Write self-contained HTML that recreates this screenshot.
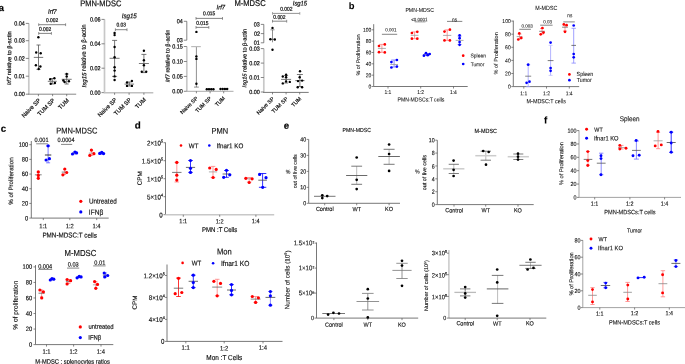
<!DOCTYPE html><html><head><meta charset="utf-8"><title>figure</title><style>html,body{margin:0;padding:0;background:#fff;overflow:hidden;}svg{display:block;text-rendering:geometricPrecision;will-change:transform;font-family:"Liberation Sans",sans-serif;}</style></head><body>
<svg width="685" height="364" viewBox="0 0 685 364">
<rect width="685" height="364" fill="#fff"/>
<text font-size="9.4" font-weight="bold" fill="#000" stroke="#111" stroke-width="0.2" dominant-baseline="central" transform="translate(-1.25 7.41) rotate(0.1) scale(1 1)">a</text>
<text font-size="7.5" fill="#111" stroke="#111" stroke-width="0.2" dominant-baseline="central" transform="translate(80.2 3.51) rotate(0.1) scale(1 1.12)">PMN-MDSC</text>
<text font-size="7.61" fill="#111" stroke="#111" stroke-width="0.2" dominant-baseline="central" transform="translate(234.39 3.2) rotate(0.1) scale(1 1.12)">M-MDSC</text>
<line x1="28.8" y1="23.4" x2="28.8" y2="94.2" stroke="#c8c8c8" stroke-width="1.7"/>
<line x1="25.8" y1="23.4" x2="28.8" y2="23.4" stroke="#555" stroke-width="0.7"/>
<text font-size="5.4" fill="#111" stroke="#111" stroke-width="0.2" dominant-baseline="central" transform="translate(14.23 24.33) rotate(0.1) scale(1 1.12)">0.04</text>
<line x1="25.8" y1="40.7" x2="28.8" y2="40.7" stroke="#555" stroke-width="0.7"/>
<text font-size="5.4" fill="#111" stroke="#111" stroke-width="0.2" dominant-baseline="central" transform="translate(14.31 41.43) rotate(0.1) scale(1 1.12)">0.03</text>
<line x1="25.8" y1="58.4" x2="28.8" y2="58.4" stroke="#555" stroke-width="0.7"/>
<text font-size="5.4" fill="#111" stroke="#111" stroke-width="0.2" dominant-baseline="central" transform="translate(14.37 59.33) rotate(0.1) scale(1 1.12)">0.02</text>
<line x1="25.8" y1="76.2" x2="28.8" y2="76.2" stroke="#555" stroke-width="0.7"/>
<text font-size="5.4" fill="#111" stroke="#111" stroke-width="0.2" dominant-baseline="central" transform="translate(14.34 77.13) rotate(0.1) scale(1 1.12)">0.01</text>
<line x1="25.8" y1="94.2" x2="28.8" y2="94.2" stroke="#555" stroke-width="0.7"/>
<text font-size="5.4" fill="#111" stroke="#111" stroke-width="0.2" dominant-baseline="central" transform="translate(14.29 94.87) rotate(0.1) scale(1 1.12)">0.00</text>
<line x1="28" y1="94.2" x2="76.2" y2="94.2" stroke="#888" stroke-width="1"/>
<line x1="38.4" y1="94.2" x2="38.4" y2="96.2" stroke="#555" stroke-width="0.7"/>
<line x1="52.6" y1="94.2" x2="52.6" y2="96.2" stroke="#555" stroke-width="0.7"/>
<line x1="66.7" y1="94.2" x2="66.7" y2="96.2" stroke="#555" stroke-width="0.7"/>
<text x="41" y="100.8" font-size="5.8" text-anchor="end" fill="#111" stroke="#111" stroke-width="0.2" transform="rotate(-45 41 100.8)">Naive SP</text>
<text x="55.2" y="100.8" font-size="5.8" text-anchor="end" fill="#111" stroke="#111" stroke-width="0.2" transform="rotate(-45 55.2 100.8)">TUM SP</text>
<text x="69.3" y="100.8" font-size="5.8" text-anchor="end" fill="#111" stroke="#111" stroke-width="0.2" transform="rotate(-45 69.3 100.8)">TUM</text>
<text font-size="5.97" font-style="italic" fill="#111" stroke="#111" stroke-width="0.2" dominant-baseline="central" transform="translate(48.06 12.75) rotate(0.1) scale(1 1.12)">Irf7</text>
<text font-size="5.78" fill="#111" stroke="#111" stroke-width="0.2" dominant-baseline="central" transform="translate(10.09 85.22) rotate(-89.9)"><tspan font-style="italic">Irf7</tspan> relative to β-actin</text>
<line x1="38.7" y1="24.7" x2="65.6" y2="24.7" stroke="#666" stroke-width="0.8"/>
<line x1="38.7" y1="23.3" x2="38.7" y2="26.1" stroke="#666" stroke-width="0.7"/>
<line x1="65.6" y1="23.3" x2="65.6" y2="26.1" stroke="#666" stroke-width="0.7"/>
<text font-size="4.9" fill="#111" stroke="#111" stroke-width="0.2" dominant-baseline="central" transform="translate(46 21.49) rotate(0.1) scale(1 1.12)">0.002</text>
<line x1="38.7" y1="33.4" x2="51.4" y2="33.4" stroke="#666" stroke-width="0.8"/>
<line x1="38.7" y1="32" x2="38.7" y2="34.8" stroke="#666" stroke-width="0.7"/>
<line x1="51.4" y1="32" x2="51.4" y2="34.8" stroke="#666" stroke-width="0.7"/>
<text font-size="4.9" fill="#111" stroke="#111" stroke-width="0.2" dominant-baseline="central" transform="translate(38.9 30.31) rotate(0.1) scale(1 1.12)">0.002</text>
<line x1="38.5" y1="45" x2="38.5" y2="69.4" stroke="#555" stroke-width="0.8"/>
<line x1="36.5" y1="45" x2="40.5" y2="45" stroke="#555" stroke-width="0.8"/>
<line x1="36.5" y1="69.4" x2="40.5" y2="69.4" stroke="#555" stroke-width="0.8"/>
<line x1="33.8" y1="57.4" x2="43.2" y2="57.4" stroke="#555" stroke-width="0.8"/>
<circle cx="38.4" cy="37.2" r="1.2" fill="#000"/>
<circle cx="36.2" cy="52.5" r="1.2" fill="#000"/>
<circle cx="40.7" cy="53.3" r="1.2" fill="#000"/>
<circle cx="35.9" cy="65.2" r="1.2" fill="#000"/>
<circle cx="40.4" cy="66.5" r="1.2" fill="#000"/>
<circle cx="38.7" cy="69" r="1.2" fill="#000"/>
<line x1="52.3" y1="78.5" x2="52.3" y2="84" stroke="#555" stroke-width="0.8"/>
<line x1="50.3" y1="78.5" x2="54.3" y2="78.5" stroke="#555" stroke-width="0.8"/>
<line x1="50.3" y1="84" x2="54.3" y2="84" stroke="#555" stroke-width="0.8"/>
<line x1="47.8" y1="81.3" x2="56.8" y2="81.3" stroke="#555" stroke-width="0.8"/>
<circle cx="50.2" cy="79.3" r="1.2" fill="#000"/>
<circle cx="54.4" cy="78.3" r="1.2" fill="#000"/>
<circle cx="50.7" cy="83.8" r="1.2" fill="#000"/>
<circle cx="54.9" cy="83" r="1.2" fill="#000"/>
<line x1="66.7" y1="74" x2="66.7" y2="84" stroke="#555" stroke-width="0.8"/>
<line x1="64.7" y1="74" x2="68.7" y2="74" stroke="#555" stroke-width="0.8"/>
<line x1="64.7" y1="84" x2="68.7" y2="84" stroke="#555" stroke-width="0.8"/>
<line x1="61.7" y1="79.3" x2="71.7" y2="79.3" stroke="#555" stroke-width="0.8"/>
<circle cx="66.7" cy="73.9" r="1.2" fill="#000"/>
<circle cx="66.7" cy="76.4" r="1.2" fill="#000"/>
<circle cx="63.4" cy="80.5" r="1.2" fill="#000"/>
<circle cx="68.9" cy="81.3" r="1.2" fill="#000"/>
<circle cx="64.6" cy="82" r="1.2" fill="#000"/>
<line x1="104.5" y1="19.4" x2="104.5" y2="92.6" stroke="#c8c8c8" stroke-width="1.7"/>
<line x1="101.5" y1="19.4" x2="104.5" y2="19.4" stroke="#555" stroke-width="0.7"/>
<text font-size="5.4" fill="#111" stroke="#111" stroke-width="0.2" dominant-baseline="central" transform="translate(90.01 20.33) rotate(0.1) scale(1 1.12)">0.06</text>
<line x1="101.5" y1="43.8" x2="104.5" y2="43.8" stroke="#555" stroke-width="0.7"/>
<text font-size="5.4" fill="#111" stroke="#111" stroke-width="0.2" dominant-baseline="central" transform="translate(89.93 44.53) rotate(0.1) scale(1 1.12)">0.04</text>
<line x1="101.5" y1="68.2" x2="104.5" y2="68.2" stroke="#555" stroke-width="0.7"/>
<text font-size="5.4" fill="#111" stroke="#111" stroke-width="0.2" dominant-baseline="central" transform="translate(90.07 69.13) rotate(0.1) scale(1 1.12)">0.02</text>
<line x1="101.5" y1="92.6" x2="104.5" y2="92.6" stroke="#555" stroke-width="0.7"/>
<text font-size="5.4" fill="#111" stroke="#111" stroke-width="0.2" dominant-baseline="central" transform="translate(89.99 93.53) rotate(0.1) scale(1 1.12)">0.00</text>
<line x1="103.7" y1="92.8" x2="153.3" y2="92.8" stroke="#c0c0c0" stroke-width="1.4"/>
<line x1="114.6" y1="92.8" x2="114.6" y2="94.8" stroke="#555" stroke-width="0.7"/>
<line x1="129.1" y1="92.8" x2="129.1" y2="94.8" stroke="#555" stroke-width="0.7"/>
<line x1="143.9" y1="92.8" x2="143.9" y2="94.8" stroke="#555" stroke-width="0.7"/>
<text x="117.2" y="100.2" font-size="5.8" text-anchor="end" fill="#111" stroke="#111" stroke-width="0.2" transform="rotate(-45 117.2 100.2)">Naive SP</text>
<text x="131.7" y="100.2" font-size="5.8" text-anchor="end" fill="#111" stroke="#111" stroke-width="0.2" transform="rotate(-45 131.7 100.2)">TUM SP</text>
<text x="146.5" y="100.2" font-size="5.8" text-anchor="end" fill="#111" stroke="#111" stroke-width="0.2" transform="rotate(-45 146.5 100.2)">TUM</text>
<text font-size="6.14" font-style="italic" fill="#111" stroke="#111" stroke-width="0.2" dominant-baseline="central" transform="translate(121.75 16.66) rotate(0.1) scale(1 1.12)">Isg15</text>
<text font-size="6.08" fill="#111" stroke="#111" stroke-width="0.2" dominant-baseline="central" transform="translate(84.27 87.45) rotate(-89.9)"><tspan font-style="italic">Isg15</tspan> relative to β-actin</text>
<line x1="115.4" y1="29.7" x2="127" y2="29.7" stroke="#666" stroke-width="0.8"/>
<line x1="115.4" y1="28.3" x2="115.4" y2="31.1" stroke="#666" stroke-width="0.7"/>
<line x1="127" y1="28.3" x2="127" y2="31.1" stroke="#666" stroke-width="0.7"/>
<text font-size="4.9" fill="#111" stroke="#111" stroke-width="0.2" dominant-baseline="central" transform="translate(116.43 25.99) rotate(0.1) scale(1 1.12)">0.03</text>
<line x1="114.6" y1="40.4" x2="114.6" y2="76.4" stroke="#555" stroke-width="0.8"/>
<line x1="112.1" y1="40.4" x2="117.1" y2="40.4" stroke="#555" stroke-width="0.8"/>
<line x1="112.1" y1="76.4" x2="117.1" y2="76.4" stroke="#555" stroke-width="0.8"/>
<line x1="109.6" y1="58.3" x2="119.6" y2="58.3" stroke="#555" stroke-width="0.8"/>
<circle cx="114.6" cy="33" r="1.2" fill="#000"/>
<circle cx="114.6" cy="35.1" r="1.2" fill="#000"/>
<circle cx="114.6" cy="47" r="1.2" fill="#000"/>
<circle cx="114.6" cy="57.2" r="1.2" fill="#000"/>
<circle cx="114.6" cy="67.3" r="1.2" fill="#000"/>
<circle cx="114.6" cy="70.6" r="1.2" fill="#000"/>
<circle cx="114.6" cy="76.4" r="1.2" fill="#000"/>
<circle cx="114.6" cy="80" r="1.2" fill="#000"/>
<line x1="129.3" y1="82" x2="129.3" y2="86" stroke="#555" stroke-width="0.8"/>
<line x1="127.3" y1="82" x2="131.3" y2="82" stroke="#555" stroke-width="0.8"/>
<line x1="127.3" y1="86" x2="131.3" y2="86" stroke="#555" stroke-width="0.8"/>
<line x1="124.5" y1="84.1" x2="134.1" y2="84.1" stroke="#555" stroke-width="0.8"/>
<circle cx="127" cy="82.5" r="1.2" fill="#000"/>
<circle cx="131.9" cy="81" r="1.2" fill="#000"/>
<circle cx="127" cy="85.9" r="1.2" fill="#000"/>
<circle cx="131.9" cy="85.9" r="1.2" fill="#000"/>
<line x1="143.9" y1="54.4" x2="143.9" y2="72.6" stroke="#555" stroke-width="0.8"/>
<line x1="141.4" y1="54.4" x2="146.4" y2="54.4" stroke="#555" stroke-width="0.8"/>
<line x1="141.4" y1="72.6" x2="146.4" y2="72.6" stroke="#555" stroke-width="0.8"/>
<line x1="138.9" y1="63.5" x2="148.9" y2="63.5" stroke="#555" stroke-width="0.8"/>
<circle cx="143.9" cy="50.8" r="1.2" fill="#000"/>
<circle cx="143.9" cy="60.2" r="1.2" fill="#000"/>
<circle cx="143.9" cy="65.2" r="1.2" fill="#000"/>
<circle cx="141.8" cy="71.7" r="1.2" fill="#000"/>
<circle cx="146.2" cy="71.7" r="1.2" fill="#000"/>
<line x1="186.8" y1="21.3" x2="186.8" y2="40.2" stroke="#666" stroke-width="0.8"/>
<line x1="183.8" y1="21.3" x2="186.8" y2="21.3" stroke="#555" stroke-width="0.7"/>
<text font-size="5.4" fill="#111" stroke="#111" stroke-width="0.2" dominant-baseline="central" transform="translate(176.74 22.23) rotate(0.1) scale(1 1.12)">04</text>
<line x1="183.8" y1="40.2" x2="186.8" y2="40.2" stroke="#555" stroke-width="0.7"/>
<text font-size="5.4" fill="#111" stroke="#111" stroke-width="0.2" dominant-baseline="central" transform="translate(176.82 41.17) rotate(0.1) scale(1 1.12)">03</text>
<line x1="186.8" y1="46.5" x2="186.8" y2="91.3" stroke="#c8c8c8" stroke-width="1.7"/>
<line x1="183.8" y1="46.5" x2="186.8" y2="46.5" stroke="#555" stroke-width="0.7"/>
<text font-size="5.4" fill="#111" stroke="#111" stroke-width="0.2" dominant-baseline="central" transform="translate(172.31 47.43) rotate(0.1) scale(1 1.12)">0.15</text>
<line x1="183.8" y1="61.5" x2="186.8" y2="61.5" stroke="#555" stroke-width="0.7"/>
<text font-size="5.4" fill="#111" stroke="#111" stroke-width="0.2" dominant-baseline="central" transform="translate(172.29 62.43) rotate(0.1) scale(1 1.12)">0.10</text>
<line x1="183.8" y1="76.4" x2="186.8" y2="76.4" stroke="#555" stroke-width="0.7"/>
<text font-size="5.4" fill="#111" stroke="#111" stroke-width="0.2" dominant-baseline="central" transform="translate(172.31 77.33) rotate(0.1) scale(1 1.12)">0.05</text>
<line x1="183.8" y1="91.3" x2="186.8" y2="91.3" stroke="#555" stroke-width="0.7"/>
<text font-size="5.4" fill="#111" stroke="#111" stroke-width="0.2" dominant-baseline="central" transform="translate(172.29 92.23) rotate(0.1) scale(1 1.12)">0.00</text>
<line x1="186" y1="91.3" x2="233.5" y2="91.3" stroke="#aaa" stroke-width="1"/>
<line x1="196.4" y1="91.3" x2="196.4" y2="93.3" stroke="#555" stroke-width="0.7"/>
<line x1="210.1" y1="91.3" x2="210.1" y2="93.3" stroke="#555" stroke-width="0.7"/>
<line x1="223.7" y1="91.3" x2="223.7" y2="93.3" stroke="#555" stroke-width="0.7"/>
<text x="198.2" y="98.6" font-size="5.4" text-anchor="end" fill="#111" stroke="#111" stroke-width="0.2" transform="rotate(-45 198.2 98.6)">Naive SP</text>
<text x="211.9" y="98.6" font-size="5.4" text-anchor="end" fill="#111" stroke="#111" stroke-width="0.2" transform="rotate(-45 211.9 98.6)">TUM SP</text>
<text x="225.5" y="98.6" font-size="5.4" text-anchor="end" fill="#111" stroke="#111" stroke-width="0.2" transform="rotate(-45 225.5 98.6)">TUM</text>
<text font-size="5.9" font-style="italic" fill="#111" stroke="#111" stroke-width="0.2" dominant-baseline="central" transform="translate(216.56 8.4) rotate(0.1) scale(1 1.12)">Irf7</text>
<text font-size="5.64" fill="#111" stroke="#111" stroke-width="0.2" dominant-baseline="central" transform="translate(168.42 82.31) rotate(-89.9)"><tspan font-style="italic">Irf7</tspan> relative to β-actin</text>
<line x1="196" y1="18.4" x2="222.5" y2="18.4" stroke="#666" stroke-width="0.8"/>
<line x1="196" y1="17" x2="196" y2="19.8" stroke="#666" stroke-width="0.7"/>
<line x1="222.5" y1="17" x2="222.5" y2="19.8" stroke="#666" stroke-width="0.7"/>
<text font-size="4.9" fill="#111" stroke="#111" stroke-width="0.2" dominant-baseline="central" transform="translate(203.07 14.63) rotate(0.1) scale(1 1.12)">0.015</text>
<line x1="196" y1="27.4" x2="208.8" y2="27.4" stroke="#666" stroke-width="0.8"/>
<line x1="196" y1="26" x2="196" y2="28.8" stroke="#666" stroke-width="0.7"/>
<line x1="208.8" y1="26" x2="208.8" y2="28.8" stroke="#666" stroke-width="0.7"/>
<text font-size="4.9" fill="#111" stroke="#111" stroke-width="0.2" dominant-baseline="central" transform="translate(196.28 24.31) rotate(0.1) scale(1 1.12)">0.015</text>
<line x1="196.4" y1="46.6" x2="196.4" y2="87.1" stroke="#444" stroke-width="0.6"/>
<line x1="194" y1="87.1" x2="198.8" y2="87.1" stroke="#444" stroke-width="0.6"/>
<line x1="191.2" y1="46.6" x2="200.8" y2="46.6" stroke="#bbb" stroke-width="1.2"/>
<circle cx="196.4" cy="31.9" r="1.2" fill="#000"/>
<circle cx="196.4" cy="56.4" r="1.2" fill="#000"/>
<circle cx="196.4" cy="58.9" r="1.2" fill="#000"/>
<circle cx="196.4" cy="83.7" r="1.2" fill="#000"/>
<line x1="206" y1="89" x2="214.5" y2="89" stroke="#444" stroke-width="0.6"/>
<circle cx="206.8" cy="89.2" r="1.2" fill="#000"/>
<circle cx="209" cy="89.2" r="1.2" fill="#000"/>
<circle cx="211.2" cy="89.2" r="1.2" fill="#000"/>
<circle cx="213.4" cy="89.2" r="1.2" fill="#000"/>
<line x1="219.8" y1="88.8" x2="228.5" y2="88.8" stroke="#444" stroke-width="0.6"/>
<circle cx="220.5" cy="89" r="1.2" fill="#000"/>
<circle cx="222.7" cy="89" r="1.2" fill="#000"/>
<circle cx="224.9" cy="89" r="1.2" fill="#000"/>
<circle cx="227.1" cy="89" r="1.2" fill="#000"/>
<line x1="263.8" y1="24.4" x2="263.8" y2="42.8" stroke="#666" stroke-width="0.8"/>
<line x1="260.8" y1="24.4" x2="263.8" y2="24.4" stroke="#555" stroke-width="0.7"/>
<text font-size="5.4" fill="#111" stroke="#111" stroke-width="0.2" dominant-baseline="central" transform="translate(253.82 25.33) rotate(0.1) scale(1 1.12)">03</text>
<line x1="260.8" y1="33.6" x2="263.8" y2="33.6" stroke="#555" stroke-width="0.7"/>
<text font-size="5.4" fill="#111" stroke="#111" stroke-width="0.2" dominant-baseline="central" transform="translate(253.88 34.53) rotate(0.1) scale(1 1.12)">02</text>
<line x1="260.8" y1="42.8" x2="263.8" y2="42.8" stroke="#555" stroke-width="0.7"/>
<text font-size="5.4" fill="#111" stroke="#111" stroke-width="0.2" dominant-baseline="central" transform="translate(253.85 43.53) rotate(0.1) scale(1 1.12)">01</text>
<line x1="263.8" y1="48.6" x2="263.8" y2="92" stroke="#c8c8c8" stroke-width="1.7"/>
<line x1="260.8" y1="48.6" x2="263.8" y2="48.6" stroke="#555" stroke-width="0.7"/>
<text font-size="5.4" fill="#111" stroke="#111" stroke-width="0.2" dominant-baseline="central" transform="translate(249.31 49.53) rotate(0.1) scale(1 1.12)">0.03</text>
<line x1="260.8" y1="63.1" x2="263.8" y2="63.1" stroke="#555" stroke-width="0.7"/>
<text font-size="5.4" fill="#111" stroke="#111" stroke-width="0.2" dominant-baseline="central" transform="translate(249.37 64.15) rotate(0.1) scale(1 1.12)">0.02</text>
<line x1="260.8" y1="77.5" x2="263.8" y2="77.5" stroke="#555" stroke-width="0.7"/>
<text font-size="5.4" fill="#111" stroke="#111" stroke-width="0.2" dominant-baseline="central" transform="translate(249.34 78.43) rotate(0.1) scale(1 1.12)">0.01</text>
<line x1="260.8" y1="92" x2="263.8" y2="92" stroke="#555" stroke-width="0.7"/>
<text font-size="5.4" fill="#111" stroke="#111" stroke-width="0.2" dominant-baseline="central" transform="translate(249.29 92.93) rotate(0.1) scale(1 1.12)">0.00</text>
<line x1="263" y1="92.4" x2="308.7" y2="92.4" stroke="#777" stroke-width="1"/>
<line x1="272.5" y1="92.4" x2="272.5" y2="94.4" stroke="#555" stroke-width="0.7"/>
<line x1="286.1" y1="92.4" x2="286.1" y2="94.4" stroke="#555" stroke-width="0.7"/>
<line x1="299.7" y1="92.4" x2="299.7" y2="94.4" stroke="#555" stroke-width="0.7"/>
<text x="274.6" y="99.1" font-size="5.4" text-anchor="end" fill="#111" stroke="#111" stroke-width="0.2" transform="rotate(-45 274.6 99.1)">Naive SP</text>
<text x="288.2" y="99.1" font-size="5.4" text-anchor="end" fill="#111" stroke="#111" stroke-width="0.2" transform="rotate(-45 288.2 99.1)">TUM SP</text>
<text x="301.8" y="99.1" font-size="5.4" text-anchor="end" fill="#111" stroke="#111" stroke-width="0.2" transform="rotate(-45 301.8 99.1)">TUM</text>
<text font-size="5.89" font-style="italic" fill="#111" stroke="#111" stroke-width="0.2" dominant-baseline="central" transform="translate(292.76 4.42) rotate(0.1) scale(1 1.12)">Isg15</text>
<text font-size="5.66" fill="#111" stroke="#111" stroke-width="0.2" dominant-baseline="central" transform="translate(245.37 87.41) rotate(-89.9)"><tspan font-style="italic">Isg15</tspan> relative to β-actin</text>
<line x1="272.5" y1="13.4" x2="299.8" y2="13.4" stroke="#888" stroke-width="0.9"/>
<line x1="272.5" y1="12" x2="272.5" y2="14.8" stroke="#888" stroke-width="0.7"/>
<line x1="299.8" y1="12" x2="299.8" y2="14.8" stroke="#888" stroke-width="0.7"/>
<text font-size="4.9" fill="#111" stroke="#111" stroke-width="0.2" dominant-baseline="central" transform="translate(280.2 10.13) rotate(0.1) scale(1 1.12)">0.002</text>
<line x1="272.5" y1="21.2" x2="286.7" y2="21.2" stroke="#666" stroke-width="0.8"/>
<line x1="272.5" y1="19.8" x2="272.5" y2="22.6" stroke="#666" stroke-width="0.7"/>
<line x1="286.7" y1="19.8" x2="286.7" y2="22.6" stroke="#666" stroke-width="0.7"/>
<text font-size="4.9" fill="#111" stroke="#111" stroke-width="0.2" dominant-baseline="central" transform="translate(273.3 18.31) rotate(0.1) scale(1 1.12)">0.002</text>
<line x1="272.5" y1="29.8" x2="272.5" y2="42.3" stroke="#444" stroke-width="0.6"/>
<line x1="270.5" y1="29.8" x2="274.5" y2="29.8" stroke="#444" stroke-width="0.6"/>
<line x1="269" y1="39.3" x2="276" y2="39.3" stroke="#444" stroke-width="0.6"/>
<circle cx="272.5" cy="27.9" r="1.2" fill="#000"/>
<circle cx="270.4" cy="39.2" r="1.2" fill="#000"/>
<circle cx="274.8" cy="39.5" r="1.2" fill="#000"/>
<circle cx="272.5" cy="49.8" r="1.2" fill="#000"/>
<line x1="286.1" y1="75.5" x2="286.1" y2="83" stroke="#555" stroke-width="0.8"/>
<line x1="284.1" y1="75.5" x2="288.1" y2="75.5" stroke="#555" stroke-width="0.8"/>
<line x1="284.1" y1="83" x2="288.1" y2="83" stroke="#555" stroke-width="0.8"/>
<line x1="281.1" y1="79.4" x2="291.1" y2="79.4" stroke="#555" stroke-width="0.8"/>
<circle cx="282.8" cy="76.5" r="1.2" fill="#000"/>
<circle cx="286.1" cy="74.8" r="1.2" fill="#000"/>
<circle cx="286.1" cy="77.3" r="1.2" fill="#000"/>
<circle cx="282.8" cy="83.4" r="1.2" fill="#000"/>
<circle cx="286.1" cy="81.4" r="1.2" fill="#000"/>
<circle cx="289.8" cy="81.9" r="1.2" fill="#000"/>
<line x1="299.9" y1="74.5" x2="299.9" y2="86.5" stroke="#555" stroke-width="0.8"/>
<line x1="296.9" y1="74.5" x2="302.9" y2="74.5" stroke="#555" stroke-width="0.8"/>
<line x1="296.9" y1="86.5" x2="302.9" y2="86.5" stroke="#555" stroke-width="0.8"/>
<line x1="295.3" y1="80.6" x2="304.5" y2="80.6" stroke="#555" stroke-width="0.8"/>
<circle cx="300" cy="71.2" r="1.2" fill="#000"/>
<circle cx="299.7" cy="77.3" r="1.2" fill="#000"/>
<circle cx="298" cy="81.1" r="1.2" fill="#000"/>
<circle cx="302.1" cy="80.6" r="1.2" fill="#000"/>
<circle cx="297.7" cy="87.2" r="1.2" fill="#000"/>
<circle cx="302.1" cy="87.2" r="1.2" fill="#000"/>
<text font-size="9.4" font-weight="bold" fill="#000" stroke="#111" stroke-width="0.06" dominant-baseline="central" transform="translate(348.82 5.57) rotate(0.1) scale(1 1)">b</text>
<text font-size="5.2" fill="#111" stroke="#111" stroke-width="0.06" dominant-baseline="central" transform="translate(405.38 10.8) rotate(0.1) scale(1 1.12)">PMN-MDSC</text>
<line x1="373.7" y1="24.2" x2="373.7" y2="86.5" stroke="#555" stroke-width="0.8"/>
<line x1="371.7" y1="29.8" x2="373.7" y2="29.8" stroke="#555" stroke-width="0.7"/>
<text font-size="5" fill="#111" stroke="#111" stroke-width="0.06" dominant-baseline="central" transform="translate(363.05 30.66) rotate(0.1) scale(1 1.12)">100</text>
<line x1="371.7" y1="41.14" x2="373.7" y2="41.14" stroke="#555" stroke-width="0.7"/>
<text font-size="5" fill="#111" stroke="#111" stroke-width="0.06" dominant-baseline="central" transform="translate(365.82 42) rotate(0.1) scale(1 1.12)">80</text>
<line x1="371.7" y1="52.48" x2="373.7" y2="52.48" stroke="#555" stroke-width="0.7"/>
<text font-size="5" fill="#111" stroke="#111" stroke-width="0.06" dominant-baseline="central" transform="translate(365.82 53.34) rotate(0.1) scale(1 1.12)">60</text>
<line x1="371.7" y1="63.82" x2="373.7" y2="63.82" stroke="#555" stroke-width="0.7"/>
<text font-size="5" fill="#111" stroke="#111" stroke-width="0.06" dominant-baseline="central" transform="translate(365.82 64.68) rotate(0.1) scale(1 1.12)">40</text>
<line x1="371.7" y1="75.16" x2="373.7" y2="75.16" stroke="#555" stroke-width="0.7"/>
<text font-size="5" fill="#111" stroke="#111" stroke-width="0.06" dominant-baseline="central" transform="translate(365.82 76.02) rotate(0.1) scale(1 1.12)">20</text>
<line x1="371.7" y1="86.5" x2="373.7" y2="86.5" stroke="#555" stroke-width="0.7"/>
<text font-size="5" fill="#111" stroke="#111" stroke-width="0.06" dominant-baseline="central" transform="translate(368.6 87.36) rotate(0.1) scale(1 1.12)">0</text>
<line x1="373.7" y1="86.5" x2="467.7" y2="86.5" stroke="#555" stroke-width="0.8"/>
<line x1="388" y1="86.5" x2="388" y2="88.5" stroke="#555" stroke-width="0.7"/>
<text font-size="5" fill="#111" stroke="#111" stroke-width="0.06" dominant-baseline="central" transform="translate(384.45 92.82) rotate(0.1) scale(1 1.12)">1:1</text>
<line x1="420.7" y1="86.5" x2="420.7" y2="88.5" stroke="#555" stroke-width="0.7"/>
<text font-size="5" fill="#111" stroke="#111" stroke-width="0.06" dominant-baseline="central" transform="translate(417.16 92.82) rotate(0.1) scale(1 1.12)">1:2</text>
<line x1="453.5" y1="86.5" x2="453.5" y2="88.5" stroke="#555" stroke-width="0.7"/>
<text font-size="5" fill="#111" stroke="#111" stroke-width="0.06" dominant-baseline="central" transform="translate(449.9 92.82) rotate(0.1) scale(1 1.12)">1:4</text>
<text font-size="5.14" fill="#111" stroke="#111" stroke-width="0.06" dominant-baseline="central" transform="translate(397.49 100.29) rotate(0.1) scale(1 1.12)">PMN-MDSCs:T cells</text>
<text font-size="5.4" fill="#111" stroke="#111" stroke-width="0.06" dominant-baseline="central" transform="translate(359.03 75.59) rotate(-89.9)">% of Proliferation</text>
<line x1="381.9" y1="34.3" x2="397.2" y2="34.3" stroke="#666" stroke-width="0.8"/>
<text font-size="4.5" fill="#111" stroke="#111" stroke-width="0.06" dominant-baseline="central" transform="translate(385.19 29.85) rotate(0.1) scale(1 1.12)">0.001</text>
<line x1="414.8" y1="21.9" x2="425.5" y2="21.9" stroke="#777" stroke-width="0.7"/>
<text font-size="4.43" fill="#111" stroke="#111" stroke-width="0.06" dominant-baseline="central" transform="translate(411.28 19.61) rotate(0.1) scale(1 1.12)">&lt;0.0001</text>
<line x1="447" y1="21.4" x2="462.3" y2="21.4" stroke="#666" stroke-width="0.8"/>
<text font-size="4.8" fill="#111" stroke="#111" stroke-width="0.06" dominant-baseline="central" transform="translate(452.1 20.85) rotate(0.1) scale(1 1.12)">ns</text>
<line x1="381.9" y1="44.4" x2="381.9" y2="52.3" stroke="#ff8080" stroke-width="0.8"/>
<line x1="379" y1="44.4" x2="384.8" y2="44.4" stroke="#ff8080" stroke-width="0.8"/>
<line x1="379" y1="52.3" x2="384.8" y2="52.3" stroke="#ff8080" stroke-width="0.8"/>
<line x1="377.9" y1="48.4" x2="385.9" y2="48.4" stroke="#999" stroke-width="0.8"/>
<circle cx="379" cy="46" r="1.35" fill="#ff0000"/>
<circle cx="384.8" cy="44.4" r="1.35" fill="#ff0000"/>
<circle cx="379" cy="52.2" r="1.35" fill="#ff0000"/>
<circle cx="384.8" cy="52.4" r="1.35" fill="#ff0000"/>
<line x1="394.1" y1="60" x2="394.1" y2="67" stroke="#7070ff" stroke-width="0.8"/>
<line x1="391.3" y1="60" x2="396.9" y2="60" stroke="#7070ff" stroke-width="0.8"/>
<line x1="391.3" y1="67" x2="396.9" y2="67" stroke="#7070ff" stroke-width="0.8"/>
<line x1="390.2" y1="64.5" x2="398" y2="64.5" stroke="#999" stroke-width="0.8"/>
<circle cx="391.4" cy="62.1" r="1.35" fill="#0000ff"/>
<circle cx="396.9" cy="60" r="1.35" fill="#0000ff"/>
<circle cx="391.4" cy="67.5" r="1.35" fill="#0000ff"/>
<circle cx="396.9" cy="66.6" r="1.35" fill="#0000ff"/>
<line x1="414.6" y1="31.9" x2="414.6" y2="38.7" stroke="#ff8080" stroke-width="0.8"/>
<line x1="411.9" y1="31.9" x2="417.3" y2="31.9" stroke="#ff8080" stroke-width="0.8"/>
<line x1="411.9" y1="38.7" x2="417.3" y2="38.7" stroke="#ff8080" stroke-width="0.8"/>
<line x1="410.7" y1="35.3" x2="418.5" y2="35.3" stroke="#999" stroke-width="0.8"/>
<circle cx="411.9" cy="33" r="1.35" fill="#ff0000"/>
<circle cx="417.3" cy="31.8" r="1.35" fill="#ff0000"/>
<circle cx="411.9" cy="38.7" r="1.35" fill="#ff0000"/>
<circle cx="417.3" cy="38.7" r="1.35" fill="#ff0000"/>
<line x1="426.8" y1="53.5" x2="426.8" y2="55.5" stroke="#7070ff" stroke-width="0.8"/>
<line x1="424.3" y1="53.5" x2="429.3" y2="53.5" stroke="#7070ff" stroke-width="0.8"/>
<line x1="424.3" y1="55.5" x2="429.3" y2="55.5" stroke="#7070ff" stroke-width="0.8"/>
<line x1="423.3" y1="54.5" x2="430.3" y2="54.5" stroke="#999" stroke-width="0.8"/>
<circle cx="423.9" cy="55.7" r="1.35" fill="#0000ff"/>
<circle cx="426" cy="53.2" r="1.35" fill="#0000ff"/>
<circle cx="427.7" cy="55.2" r="1.35" fill="#0000ff"/>
<circle cx="429.7" cy="54" r="1.35" fill="#0000ff"/>
<line x1="447.2" y1="29.9" x2="447.2" y2="40.4" stroke="#ff8080" stroke-width="0.8"/>
<line x1="444.5" y1="29.9" x2="449.9" y2="29.9" stroke="#ff8080" stroke-width="0.8"/>
<line x1="444.5" y1="40.4" x2="449.9" y2="40.4" stroke="#ff8080" stroke-width="0.8"/>
<line x1="443.1" y1="35.4" x2="451.3" y2="35.4" stroke="#999" stroke-width="0.8"/>
<circle cx="444.5" cy="31.6" r="1.35" fill="#ff0000"/>
<circle cx="449.9" cy="29.7" r="1.35" fill="#ff0000"/>
<circle cx="444.5" cy="40.4" r="1.35" fill="#ff0000"/>
<circle cx="449.9" cy="40.4" r="1.35" fill="#ff0000"/>
<line x1="459.6" y1="36" x2="459.6" y2="44.5" stroke="#7070ff" stroke-width="0.8"/>
<line x1="457.6" y1="36" x2="461.6" y2="36" stroke="#7070ff" stroke-width="0.8"/>
<line x1="457.6" y1="44.5" x2="461.6" y2="44.5" stroke="#7070ff" stroke-width="0.8"/>
<line x1="455.7" y1="40.4" x2="463.5" y2="40.4" stroke="#999" stroke-width="0.8"/>
<circle cx="459.6" cy="35.4" r="1.35" fill="#0000ff"/>
<circle cx="459.6" cy="38.2" r="1.35" fill="#0000ff"/>
<circle cx="459.6" cy="42" r="1.35" fill="#0000ff"/>
<circle cx="459.6" cy="44.8" r="1.35" fill="#0000ff"/>
<circle cx="463.2" cy="55.7" r="1.35" fill="#ff0000"/>
<text font-size="4.95" fill="#111" stroke="#111" stroke-width="0.06" dominant-baseline="central" transform="translate(470.58 56.98) rotate(0.1) scale(1 1.12)">Spleen</text>
<circle cx="463.2" cy="64" r="1.35" fill="#0000ff"/>
<text font-size="4.79" fill="#111" stroke="#111" stroke-width="0.06" dominant-baseline="central" transform="translate(470.7 65.63) rotate(0.1) scale(1 1.12)">Tumor</text>
<text font-size="5.36" fill="#111" stroke="#111" stroke-width="0.06" dominant-baseline="central" transform="translate(535.37 8.82) rotate(0.1) scale(1 1.12)">M-MDSC</text>
<line x1="513.3" y1="20.6" x2="513.3" y2="86.6" stroke="#555" stroke-width="0.8"/>
<line x1="511.3" y1="21.1" x2="513.3" y2="21.1" stroke="#555" stroke-width="0.7"/>
<text font-size="5" fill="#111" stroke="#111" stroke-width="0.06" dominant-baseline="central" transform="translate(502.35 21.96) rotate(0.1) scale(1 1.12)">100</text>
<line x1="511.3" y1="34.2" x2="513.3" y2="34.2" stroke="#555" stroke-width="0.7"/>
<text font-size="5" fill="#111" stroke="#111" stroke-width="0.06" dominant-baseline="central" transform="translate(505.12 35.06) rotate(0.1) scale(1 1.12)">80</text>
<line x1="511.3" y1="47.3" x2="513.3" y2="47.3" stroke="#555" stroke-width="0.7"/>
<text font-size="5" fill="#111" stroke="#111" stroke-width="0.06" dominant-baseline="central" transform="translate(505.12 48.16) rotate(0.1) scale(1 1.12)">60</text>
<line x1="511.3" y1="60.4" x2="513.3" y2="60.4" stroke="#555" stroke-width="0.7"/>
<text font-size="5" fill="#111" stroke="#111" stroke-width="0.06" dominant-baseline="central" transform="translate(505.12 61.26) rotate(0.1) scale(1 1.12)">40</text>
<line x1="511.3" y1="73.5" x2="513.3" y2="73.5" stroke="#555" stroke-width="0.7"/>
<text font-size="5" fill="#111" stroke="#111" stroke-width="0.06" dominant-baseline="central" transform="translate(505.12 74.36) rotate(0.1) scale(1 1.12)">20</text>
<line x1="511.3" y1="86.6" x2="513.3" y2="86.6" stroke="#555" stroke-width="0.7"/>
<text font-size="5" fill="#111" stroke="#111" stroke-width="0.06" dominant-baseline="central" transform="translate(507.9 87.46) rotate(0.1) scale(1 1.12)">0</text>
<line x1="513.3" y1="86.6" x2="579.2" y2="86.6" stroke="#555" stroke-width="0.8"/>
<line x1="523.8" y1="86.6" x2="523.8" y2="88.6" stroke="#555" stroke-width="0.7"/>
<text font-size="5" fill="#111" stroke="#111" stroke-width="0.06" dominant-baseline="central" transform="translate(520.25 94.06) rotate(0.1) scale(1 1.12)">1:1</text>
<line x1="546.5" y1="86.6" x2="546.5" y2="88.6" stroke="#555" stroke-width="0.7"/>
<text font-size="5" fill="#111" stroke="#111" stroke-width="0.06" dominant-baseline="central" transform="translate(542.96 94.06) rotate(0.1) scale(1 1.12)">1:2</text>
<line x1="569.3" y1="86.6" x2="569.3" y2="88.6" stroke="#555" stroke-width="0.7"/>
<text font-size="5" fill="#111" stroke="#111" stroke-width="0.06" dominant-baseline="central" transform="translate(565.7 94.06) rotate(0.1) scale(1 1.12)">1:4</text>
<text font-size="5.43" fill="#111" stroke="#111" stroke-width="0.06" dominant-baseline="central" transform="translate(526.57 102.14) rotate(0.1) scale(1 1.12)">M-MDSC:T cells</text>
<text font-size="5.55" fill="#111" stroke="#111" stroke-width="0.06" dominant-baseline="central" transform="translate(496.85 74.49) rotate(-89.9)">% of Proliferation</text>
<line x1="519.3" y1="29.3" x2="530.9" y2="29.3" stroke="#666" stroke-width="0.8"/>
<text font-size="4.5" fill="#111" stroke="#111" stroke-width="0.06" dominant-baseline="central" transform="translate(521.38 26.03) rotate(0.1) scale(1 1.12)">0.003</text>
<line x1="540.2" y1="25.2" x2="552.6" y2="25.2" stroke="#666" stroke-width="0.8"/>
<text font-size="4.5" fill="#111" stroke="#111" stroke-width="0.06" dominant-baseline="central" transform="translate(543.32 21.85) rotate(0.1) scale(1 1.12)">0.03</text>
<line x1="563.3" y1="21.9" x2="574.8" y2="21.9" stroke="#666" stroke-width="0.8"/>
<text font-size="4.8" fill="#111" stroke="#111" stroke-width="0.06" dominant-baseline="central" transform="translate(567.3 16.63) rotate(0.1) scale(1 1.12)">ns</text>
<line x1="519.5" y1="34" x2="519.5" y2="39" stroke="#ff8080" stroke-width="0.8"/>
<line x1="517.5" y1="34" x2="521.5" y2="34" stroke="#ff8080" stroke-width="0.8"/>
<line x1="517.5" y1="39" x2="521.5" y2="39" stroke="#ff8080" stroke-width="0.8"/>
<line x1="516.7" y1="36.6" x2="522.3" y2="36.6" stroke="#999" stroke-width="0.8"/>
<circle cx="519.3" cy="33.4" r="1.35" fill="#ff0000"/>
<circle cx="518.3" cy="39.5" r="1.35" fill="#ff0000"/>
<circle cx="521.3" cy="37.9" r="1.35" fill="#ff0000"/>
<line x1="528.2" y1="64.7" x2="528.2" y2="86.6" stroke="#a0a0ff" stroke-width="0.8"/>
<line x1="526.2" y1="64.7" x2="530.2" y2="64.7" stroke="#a0a0ff" stroke-width="0.8"/>
<line x1="526.2" y1="86.6" x2="530.2" y2="86.6" stroke="#a0a0ff" stroke-width="0.8"/>
<line x1="525.2" y1="76.2" x2="531.2" y2="76.2" stroke="#666" stroke-width="0.8"/>
<circle cx="528.2" cy="64.7" r="1.35" fill="#0000ff"/>
<circle cx="526.6" cy="82.8" r="1.35" fill="#0000ff"/>
<circle cx="529.5" cy="81.7" r="1.35" fill="#0000ff"/>
<line x1="542" y1="28.5" x2="542" y2="34" stroke="#ff8080" stroke-width="0.8"/>
<line x1="540" y1="28.5" x2="544" y2="28.5" stroke="#ff8080" stroke-width="0.8"/>
<line x1="540" y1="34" x2="544" y2="34" stroke="#ff8080" stroke-width="0.8"/>
<line x1="539.2" y1="31.3" x2="544.8" y2="31.3" stroke="#666" stroke-width="0.8"/>
<circle cx="542.4" cy="28" r="1.35" fill="#ff0000"/>
<circle cx="540.7" cy="34.3" r="1.35" fill="#ff0000"/>
<circle cx="543.5" cy="32.6" r="1.35" fill="#ff0000"/>
<line x1="550.6" y1="45.3" x2="550.6" y2="75.4" stroke="#a0a0ff" stroke-width="0.8"/>
<line x1="548.6" y1="45.3" x2="552.6" y2="45.3" stroke="#c0c0ff" stroke-width="0.8"/>
<line x1="548.6" y1="75.4" x2="552.6" y2="75.4" stroke="#c0c0ff" stroke-width="0.8"/>
<line x1="547.7" y1="60.6" x2="553.5" y2="60.6" stroke="#555" stroke-width="0.8"/>
<circle cx="550.6" cy="42.6" r="1.35" fill="#0000ff"/>
<circle cx="550.6" cy="68" r="1.35" fill="#0000ff"/>
<circle cx="550.6" cy="70.8" r="1.35" fill="#0000ff"/>
<line x1="565" y1="24.8" x2="565" y2="31" stroke="#ff8080" stroke-width="0.8"/>
<line x1="563" y1="24.8" x2="567" y2="24.8" stroke="#ff8080" stroke-width="0.8"/>
<line x1="563" y1="31" x2="567" y2="31" stroke="#ff8080" stroke-width="0.8"/>
<line x1="562.1" y1="27.2" x2="567.9" y2="27.2" stroke="#666" stroke-width="0.8"/>
<circle cx="563.8" cy="24.4" r="1.35" fill="#ff0000"/>
<circle cx="566.6" cy="25.2" r="1.35" fill="#ff0000"/>
<circle cx="565" cy="31.8" r="1.35" fill="#ff0000"/>
<line x1="573.7" y1="28.3" x2="573.7" y2="63.1" stroke="#8888ff" stroke-width="0.8"/>
<line x1="571.5" y1="28.3" x2="575.9" y2="28.3" stroke="#8888ff" stroke-width="0.8"/>
<line x1="571.5" y1="63.1" x2="575.9" y2="63.1" stroke="#8888ff" stroke-width="0.8"/>
<line x1="571.4" y1="45.4" x2="576" y2="45.4" stroke="#555" stroke-width="0.8"/>
<circle cx="573.7" cy="25.5" r="1.35" fill="#0000ff"/>
<circle cx="573.7" cy="54" r="1.35" fill="#0000ff"/>
<circle cx="573.7" cy="57.3" r="1.35" fill="#0000ff"/>
<circle cx="569.4" cy="74.4" r="1.35" fill="#ff0000"/>
<text font-size="5.38" fill="#111" stroke="#111" stroke-width="0.06" dominant-baseline="central" transform="translate(576.56 74.95) rotate(0.1) scale(1 1.12)">Spleen</text>
<circle cx="569.4" cy="80.2" r="1.35" fill="#0000ff"/>
<text font-size="5.25" fill="#111" stroke="#111" stroke-width="0.06" dominant-baseline="central" transform="translate(576.7 80.81) rotate(0.1) scale(1 1.12)">Tumor</text>
<text font-size="9.8" font-weight="bold" fill="#000" stroke="#111" stroke-width="0.15" dominant-baseline="central" transform="translate(0.83 129.36) rotate(0.1) scale(1 1)">c</text>
<text font-size="7.5" fill="#111" stroke="#111" stroke-width="0.15" dominant-baseline="central" transform="translate(56.2 130.72) rotate(0.1) scale(1 1.12)">PMN-MDSC</text>
<line x1="31.3" y1="141" x2="31.3" y2="218.1" stroke="#555" stroke-width="0.8"/>
<line x1="29.3" y1="144.7" x2="31.3" y2="144.7" stroke="#555" stroke-width="0.7"/>
<text font-size="5.8" fill="#111" stroke="#111" stroke-width="0.15" dominant-baseline="central" transform="translate(18.65 145.7) rotate(0.1) scale(1 1.12)">100</text>
<line x1="29.3" y1="159.38" x2="31.3" y2="159.38" stroke="#555" stroke-width="0.7"/>
<text font-size="5.8" fill="#111" stroke="#111" stroke-width="0.15" dominant-baseline="central" transform="translate(21.87 160.38) rotate(0.1) scale(1 1.12)">80</text>
<line x1="29.3" y1="174.06" x2="31.3" y2="174.06" stroke="#555" stroke-width="0.7"/>
<text font-size="5.8" fill="#111" stroke="#111" stroke-width="0.15" dominant-baseline="central" transform="translate(21.87 174.82) rotate(0.1) scale(1 1.12)">60</text>
<line x1="29.3" y1="188.74" x2="31.3" y2="188.74" stroke="#555" stroke-width="0.7"/>
<text font-size="5.8" fill="#111" stroke="#111" stroke-width="0.15" dominant-baseline="central" transform="translate(21.87 189.98) rotate(0.1) scale(1 1.12)">40</text>
<line x1="29.3" y1="203.42" x2="31.3" y2="203.42" stroke="#555" stroke-width="0.7"/>
<text font-size="5.8" fill="#111" stroke="#111" stroke-width="0.15" dominant-baseline="central" transform="translate(21.87 204.42) rotate(0.1) scale(1 1.12)">20</text>
<line x1="29.3" y1="218.1" x2="31.3" y2="218.1" stroke="#555" stroke-width="0.7"/>
<text font-size="5.8" fill="#111" stroke="#111" stroke-width="0.15" dominant-baseline="central" transform="translate(25.08 219.4) rotate(0.1) scale(1 1.12)">0</text>
<line x1="31.3" y1="218.1" x2="108.7" y2="218.1" stroke="#555" stroke-width="0.8"/>
<line x1="43.3" y1="218.1" x2="43.3" y2="220.1" stroke="#555" stroke-width="0.7"/>
<text font-size="5.8" fill="#111" stroke="#111" stroke-width="0.15" dominant-baseline="central" transform="translate(39.18 227.23) rotate(0.1) scale(1 1.12)">1:1</text>
<line x1="69.8" y1="218.1" x2="69.8" y2="220.1" stroke="#555" stroke-width="0.7"/>
<text font-size="5.8" fill="#111" stroke="#111" stroke-width="0.15" dominant-baseline="central" transform="translate(65.7 227.18) rotate(0.1) scale(1 1.12)">1:2</text>
<line x1="96.7" y1="218.1" x2="96.7" y2="220.1" stroke="#555" stroke-width="0.7"/>
<text font-size="5.8" fill="#111" stroke="#111" stroke-width="0.15" dominant-baseline="central" transform="translate(92.52 227.15) rotate(0.1) scale(1 1.12)">1:4</text>
<text font-size="6.3" fill="#111" stroke="#111" stroke-width="0.15" dominant-baseline="central" transform="translate(42.4 235.87) rotate(0.1) scale(1 1.12)">PMN-MDSC:T cells</text>
<text font-size="6.24" fill="#111" stroke="#111" stroke-width="0.15" dominant-baseline="central" transform="translate(11.58 204.82) rotate(-89.9)">% of Proliferation</text>
<line x1="36.2" y1="143.8" x2="47.8" y2="143.8" stroke="#555" stroke-width="0.7"/>
<text font-size="5.6" fill="#111" stroke="#111" stroke-width="0.15" dominant-baseline="central" transform="translate(34.51 140.78) rotate(0.1) scale(1 1.12)">0.001</text>
<line x1="61" y1="144.4" x2="72.2" y2="144.4" stroke="#555" stroke-width="0.7"/>
<text font-size="5.6" fill="#111" stroke="#111" stroke-width="0.15" dominant-baseline="central" transform="translate(57.39 140.78) rotate(0.1) scale(1 1.12)">0.0004</text>
<line x1="38.3" y1="172" x2="38.3" y2="178" stroke="#ff8080" stroke-width="0.8"/>
<line x1="36.8" y1="172" x2="39.8" y2="172" stroke="#ff8080" stroke-width="0.8"/>
<line x1="36.8" y1="178" x2="39.8" y2="178" stroke="#ff8080" stroke-width="0.8"/>
<line x1="34.9" y1="174.8" x2="41.7" y2="174.8" stroke="#666" stroke-width="0.8"/>
<circle cx="38.3" cy="171.9" r="1.6" fill="#ff0000"/>
<circle cx="38.3" cy="175.4" r="1.6" fill="#ff0000"/>
<circle cx="38.3" cy="178.3" r="1.6" fill="#ff0000"/>
<line x1="48.1" y1="146" x2="48.1" y2="162.8" stroke="#5a5aff" stroke-width="0.8"/>
<line x1="46.1" y1="146" x2="50.1" y2="146" stroke="#5a5aff" stroke-width="0.8"/>
<line x1="46.1" y1="162.8" x2="50.1" y2="162.8" stroke="#5a5aff" stroke-width="0.8"/>
<line x1="44.9" y1="155" x2="51.3" y2="155" stroke="#222" stroke-width="0.9"/>
<circle cx="48.1" cy="145.8" r="1.6" fill="#0000ff"/>
<circle cx="46.1" cy="160" r="1.6" fill="#0000ff"/>
<circle cx="49.4" cy="158.7" r="1.6" fill="#0000ff"/>
<line x1="64.6" y1="169.5" x2="64.6" y2="174.5" stroke="#ff8080" stroke-width="0.8"/>
<line x1="63.1" y1="169.5" x2="66.1" y2="169.5" stroke="#ff8080" stroke-width="0.8"/>
<line x1="63.1" y1="174.5" x2="66.1" y2="174.5" stroke="#ff8080" stroke-width="0.8"/>
<line x1="61.7" y1="172.1" x2="67.5" y2="172.1" stroke="#666" stroke-width="0.8"/>
<circle cx="64.8" cy="169" r="1.6" fill="#ff0000"/>
<circle cx="66.7" cy="172.5" r="1.6" fill="#ff0000"/>
<circle cx="62.9" cy="174.8" r="1.6" fill="#ff0000"/>
<line x1="74.7" y1="152" x2="74.7" y2="154" stroke="#7070ff" stroke-width="0.8"/>
<line x1="73.2" y1="152" x2="76.2" y2="152" stroke="#7070ff" stroke-width="0.8"/>
<line x1="73.2" y1="154" x2="76.2" y2="154" stroke="#7070ff" stroke-width="0.8"/>
<line x1="72.2" y1="153" x2="77.2" y2="153" stroke="#666" stroke-width="0.8"/>
<circle cx="72.5" cy="154" r="1.6" fill="#0000ff"/>
<circle cx="75" cy="152" r="1.6" fill="#0000ff"/>
<circle cx="76.6" cy="152.9" r="1.6" fill="#0000ff"/>
<line x1="91.7" y1="150.5" x2="91.7" y2="155.5" stroke="#ff8080" stroke-width="0.8"/>
<line x1="90.2" y1="150.5" x2="93.2" y2="150.5" stroke="#ff8080" stroke-width="0.8"/>
<line x1="90.2" y1="155.5" x2="93.2" y2="155.5" stroke="#ff8080" stroke-width="0.8"/>
<line x1="88.8" y1="153.1" x2="94.6" y2="153.1" stroke="#999" stroke-width="0.8"/>
<circle cx="91.4" cy="150.1" r="1.6" fill="#ff0000"/>
<circle cx="89.8" cy="155.4" r="1.6" fill="#ff0000"/>
<circle cx="93.9" cy="153.7" r="1.6" fill="#ff0000"/>
<line x1="101.5" y1="152" x2="101.5" y2="154.5" stroke="#7070ff" stroke-width="0.8"/>
<line x1="100" y1="152" x2="103" y2="152" stroke="#7070ff" stroke-width="0.8"/>
<line x1="100" y1="154.5" x2="103" y2="154.5" stroke="#7070ff" stroke-width="0.8"/>
<line x1="99" y1="153.2" x2="104" y2="153.2" stroke="#666" stroke-width="0.8"/>
<circle cx="99.7" cy="153.4" r="1.6" fill="#0000ff"/>
<circle cx="101.8" cy="152.3" r="1.6" fill="#0000ff"/>
<circle cx="103.6" cy="153.6" r="1.6" fill="#0000ff"/>
<circle cx="80.8" cy="201.3" r="1.6" fill="#ff0000"/>
<text font-size="6.32" fill="#111" stroke="#111" stroke-width="0.15" dominant-baseline="central" transform="translate(88.93 201.87) rotate(0.1) scale(1 1.12)">Untreated</text>
<circle cx="80.8" cy="211.9" r="1.6" fill="#0000ff"/>
<text font-size="6.57" fill="#111" stroke="#111" stroke-width="0.15" dominant-baseline="central" transform="translate(88.81 213.03) rotate(0.1) scale(1 1.12)">IFNβ</text>
<text font-size="7.73" fill="#111" stroke="#111" stroke-width="0.15" dominant-baseline="central" transform="translate(64.48 253.09) rotate(0.1) scale(1 1.12)">M-MDSC</text>
<line x1="35.5" y1="265" x2="35.5" y2="344.6" stroke="#555" stroke-width="0.8"/>
<line x1="33.5" y1="266.9" x2="35.5" y2="266.9" stroke="#555" stroke-width="0.7"/>
<text font-size="5.8" fill="#111" stroke="#111" stroke-width="0.15" dominant-baseline="central" transform="translate(22.55 267.72) rotate(0.1) scale(1 1.12)">100</text>
<line x1="33.5" y1="282.44" x2="35.5" y2="282.44" stroke="#555" stroke-width="0.7"/>
<text font-size="5.8" fill="#111" stroke="#111" stroke-width="0.15" dominant-baseline="central" transform="translate(25.77 283.44) rotate(0.1) scale(1 1.12)">80</text>
<line x1="33.5" y1="297.98" x2="35.5" y2="297.98" stroke="#555" stroke-width="0.7"/>
<text font-size="5.8" fill="#111" stroke="#111" stroke-width="0.15" dominant-baseline="central" transform="translate(25.77 299.08) rotate(0.1) scale(1 1.12)">60</text>
<line x1="33.5" y1="313.52" x2="35.5" y2="313.52" stroke="#555" stroke-width="0.7"/>
<text font-size="5.8" fill="#111" stroke="#111" stroke-width="0.15" dominant-baseline="central" transform="translate(25.77 314.52) rotate(0.1) scale(1 1.12)">40</text>
<line x1="33.5" y1="329.06" x2="35.5" y2="329.06" stroke="#555" stroke-width="0.7"/>
<text font-size="5.8" fill="#111" stroke="#111" stroke-width="0.15" dominant-baseline="central" transform="translate(25.77 329.82) rotate(0.1) scale(1 1.12)">20</text>
<line x1="33.5" y1="344.6" x2="35.5" y2="344.6" stroke="#555" stroke-width="0.7"/>
<text font-size="5.8" fill="#111" stroke="#111" stroke-width="0.15" dominant-baseline="central" transform="translate(28.98 345.6) rotate(0.1) scale(1 1.12)">0</text>
<line x1="35.5" y1="344.6" x2="113.3" y2="344.6" stroke="#555" stroke-width="0.8"/>
<line x1="46.5" y1="344.6" x2="46.5" y2="346.6" stroke="#555" stroke-width="0.7"/>
<text font-size="5.8" fill="#111" stroke="#111" stroke-width="0.15" dominant-baseline="central" transform="translate(42.38 352.6) rotate(0.1) scale(1 1.12)">1:1</text>
<line x1="73.6" y1="344.6" x2="73.6" y2="346.6" stroke="#555" stroke-width="0.7"/>
<text font-size="5.8" fill="#111" stroke="#111" stroke-width="0.15" dominant-baseline="central" transform="translate(69.5 352.6) rotate(0.1) scale(1 1.12)">1:2</text>
<line x1="101" y1="344.6" x2="101" y2="346.6" stroke="#555" stroke-width="0.7"/>
<text font-size="5.8" fill="#111" stroke="#111" stroke-width="0.15" dominant-baseline="central" transform="translate(96.82 352.6) rotate(0.1) scale(1 1.12)">1:4</text>
<text font-size="5.77" fill="#111" stroke="#111" stroke-width="0.15" dominant-baseline="central" transform="translate(35.24 362.51) rotate(0.1) scale(1 1.12)">M-MDSC : splenocytes ratios</text>
<text font-size="6.52" fill="#111" stroke="#111" stroke-width="0.15" dominant-baseline="central" transform="translate(16.1 329.63) rotate(-89.9)">% of proliferation</text>
<line x1="38.2" y1="269.4" x2="52.2" y2="269.4" stroke="#555" stroke-width="0.7"/>
<text font-size="5.6" fill="#111" stroke="#111" stroke-width="0.15" dominant-baseline="central" transform="translate(38.16 267.44) rotate(0.1) scale(1 1.12)">0.004</text>
<line x1="67" y1="268.1" x2="79.2" y2="268.1" stroke="#555" stroke-width="0.7"/>
<text font-size="5.6" fill="#111" stroke="#111" stroke-width="0.15" dominant-baseline="central" transform="translate(67.75 265.27) rotate(0.1) scale(1 1.12)">0.03</text>
<line x1="93.2" y1="265.9" x2="105.6" y2="265.9" stroke="#555" stroke-width="0.7"/>
<text font-size="5.6" fill="#111" stroke="#111" stroke-width="0.15" dominant-baseline="central" transform="translate(94.37 263.57) rotate(0.1) scale(1 1.12)">0.01</text>
<line x1="41.6" y1="290" x2="41.6" y2="297" stroke="#ff8080" stroke-width="0.8"/>
<line x1="40.1" y1="290" x2="43.1" y2="290" stroke="#ff8080" stroke-width="0.8"/>
<line x1="40.1" y1="297" x2="43.1" y2="297" stroke="#ff8080" stroke-width="0.8"/>
<line x1="38.5" y1="293.2" x2="44.7" y2="293.2" stroke="#555" stroke-width="0.8"/>
<circle cx="39.9" cy="290" r="1.6" fill="#ff0000"/>
<circle cx="43.4" cy="291.8" r="1.6" fill="#ff0000"/>
<circle cx="41.7" cy="297.9" r="1.6" fill="#ff0000"/>
<line x1="52" y1="278.5" x2="52" y2="280" stroke="#7070ff" stroke-width="0.8"/>
<line x1="50.5" y1="278.5" x2="53.5" y2="278.5" stroke="#7070ff" stroke-width="0.8"/>
<line x1="50.5" y1="280" x2="53.5" y2="280" stroke="#7070ff" stroke-width="0.8"/>
<line x1="49.5" y1="279.2" x2="54.5" y2="279.2" stroke="#666" stroke-width="0.8"/>
<circle cx="50.3" cy="280" r="1.6" fill="#0000ff"/>
<circle cx="52" cy="278.6" r="1.6" fill="#0000ff"/>
<circle cx="53.8" cy="279.2" r="1.6" fill="#0000ff"/>
<line x1="68.9" y1="279.5" x2="68.9" y2="283.5" stroke="#ff8080" stroke-width="0.8"/>
<line x1="67.4" y1="279.5" x2="70.4" y2="279.5" stroke="#ff8080" stroke-width="0.8"/>
<line x1="67.4" y1="283.5" x2="70.4" y2="283.5" stroke="#ff8080" stroke-width="0.8"/>
<line x1="65.9" y1="281.3" x2="71.9" y2="281.3" stroke="#555" stroke-width="0.8"/>
<circle cx="67.1" cy="279.5" r="1.6" fill="#ff0000"/>
<circle cx="67.1" cy="283.9" r="1.6" fill="#ff0000"/>
<circle cx="70.6" cy="280.7" r="1.6" fill="#ff0000"/>
<line x1="79.1" y1="276.4" x2="79.1" y2="277.8" stroke="#7070ff" stroke-width="0.8"/>
<line x1="77.6" y1="276.4" x2="80.6" y2="276.4" stroke="#7070ff" stroke-width="0.8"/>
<line x1="77.6" y1="277.8" x2="80.6" y2="277.8" stroke="#7070ff" stroke-width="0.8"/>
<line x1="76.6" y1="277" x2="81.6" y2="277" stroke="#666" stroke-width="0.8"/>
<circle cx="77.1" cy="277.8" r="1.6" fill="#0000ff"/>
<circle cx="79.2" cy="276.4" r="1.6" fill="#0000ff"/>
<circle cx="81.1" cy="276.9" r="1.6" fill="#0000ff"/>
<line x1="95.9" y1="281.6" x2="95.9" y2="288" stroke="#ff8080" stroke-width="0.8"/>
<line x1="94.4" y1="281.6" x2="97.4" y2="281.6" stroke="#ff8080" stroke-width="0.8"/>
<line x1="94.4" y1="288" x2="97.4" y2="288" stroke="#ff8080" stroke-width="0.8"/>
<line x1="92.9" y1="284.8" x2="98.9" y2="284.8" stroke="#999" stroke-width="0.8"/>
<circle cx="94.6" cy="281.6" r="1.6" fill="#ff0000"/>
<circle cx="97.5" cy="284.4" r="1.6" fill="#ff0000"/>
<circle cx="95.8" cy="288.3" r="1.6" fill="#ff0000"/>
<line x1="105.5" y1="273" x2="105.5" y2="277" stroke="#7070ff" stroke-width="0.8"/>
<line x1="104" y1="273" x2="107" y2="273" stroke="#7070ff" stroke-width="0.8"/>
<line x1="104" y1="277" x2="107" y2="277" stroke="#7070ff" stroke-width="0.8"/>
<line x1="102.8" y1="275.1" x2="108.2" y2="275.1" stroke="#666" stroke-width="0.8"/>
<circle cx="104.2" cy="273" r="1.6" fill="#0000ff"/>
<circle cx="104.7" cy="276.9" r="1.6" fill="#0000ff"/>
<circle cx="107.7" cy="275.5" r="1.6" fill="#0000ff"/>
<circle cx="80.3" cy="326.9" r="1.6" fill="#ff0000"/>
<text font-size="5.98" fill="#111" stroke="#111" stroke-width="0.15" dominant-baseline="central" transform="translate(88.41 327.73) rotate(0.1) scale(1 1.12)">untreated</text>
<circle cx="80.3" cy="337.6" r="1.6" fill="#0000ff"/>
<text font-size="5.94" fill="#111" stroke="#111" stroke-width="0.15" dominant-baseline="central" transform="translate(88.27 338.62) rotate(0.1) scale(1 1.12)">IFNβ</text>
<text font-size="9.8" font-weight="bold" fill="#000" stroke="#111" stroke-width="0.15" dominant-baseline="central" transform="translate(134.78 126.07) rotate(0.1) scale(1 1)">d</text>
<text font-size="7.48" fill="#111" stroke="#111" stroke-width="0.15" dominant-baseline="central" transform="translate(211.6 131.04) rotate(0.1) scale(1 1.12)">PMN</text>
<line x1="165.5" y1="142.5" x2="165.5" y2="214.7" stroke="#555" stroke-width="0.8"/>
<line x1="163.5" y1="142.7" x2="165.5" y2="142.7" stroke="#555" stroke-width="0.7"/>
<line x1="163.5" y1="160.7" x2="165.5" y2="160.7" stroke="#555" stroke-width="0.7"/>
<line x1="163.5" y1="178.7" x2="165.5" y2="178.7" stroke="#555" stroke-width="0.7"/>
<line x1="163.5" y1="196.7" x2="165.5" y2="196.7" stroke="#555" stroke-width="0.7"/>
<line x1="163.5" y1="214.7" x2="165.5" y2="214.7" stroke="#555" stroke-width="0.7"/>
<text font-size="6.2" text-anchor="end" fill="#111" stroke="#111" stroke-width="0.15" dominant-baseline="central" transform="translate(163 143.77) rotate(0.1) scale(1 1.12)">2×10<tspan font-size="3.72" dy="-2.17">5</tspan></text>
<text font-size="6.2" text-anchor="end" fill="#111" stroke="#111" stroke-width="0.15" dominant-baseline="central" transform="translate(163 161.77) rotate(0.1) scale(1 1.12)">1.5×10<tspan font-size="3.72" dy="-2.17">5</tspan></text>
<text font-size="6.2" text-anchor="end" fill="#111" stroke="#111" stroke-width="0.15" dominant-baseline="central" transform="translate(163 179.77) rotate(0.1) scale(1 1.12)">1×10<tspan font-size="3.72" dy="-2.17">5</tspan></text>
<text font-size="6.2" text-anchor="end" fill="#111" stroke="#111" stroke-width="0.15" dominant-baseline="central" transform="translate(163 197.77) rotate(0.1) scale(1 1.12)">5×10<tspan font-size="3.72" dy="-2.17">4</tspan></text>
<text font-size="6.2" fill="#111" stroke="#111" stroke-width="0.15" dominant-baseline="central" transform="translate(159.28 215.77) rotate(0.1) scale(1 1.12)">0</text>
<line x1="165.5" y1="214.8" x2="274.2" y2="214.8" stroke="#c8c8c8" stroke-width="1.4"/>
<line x1="183.3" y1="214.8" x2="183.3" y2="216.8" stroke="#555" stroke-width="0.7"/>
<text font-size="5.6" fill="#111" stroke="#111" stroke-width="0.15" dominant-baseline="central" transform="translate(179.32 222.17) rotate(0.1) scale(1 1.12)">1:1</text>
<line x1="219.7" y1="214.8" x2="219.7" y2="216.8" stroke="#555" stroke-width="0.7"/>
<text font-size="5.6" fill="#111" stroke="#111" stroke-width="0.15" dominant-baseline="central" transform="translate(215.74 222.37) rotate(0.1) scale(1 1.12)">1:2</text>
<line x1="255.9" y1="214.8" x2="255.9" y2="216.8" stroke="#555" stroke-width="0.7"/>
<text font-size="5.6" fill="#111" stroke="#111" stroke-width="0.15" dominant-baseline="central" transform="translate(251.87 222.17) rotate(0.1) scale(1 1.12)">1:4</text>
<text font-size="6.03" fill="#111" stroke="#111" stroke-width="0.15" dominant-baseline="central" transform="translate(201.92 230.76) rotate(0.1) scale(1 1.12)">PMN :T Cells</text>
<text font-size="6.22" fill="#111" stroke="#111" stroke-width="0.15" dominant-baseline="central" transform="translate(140.36 185.21) rotate(-89.9)">CPM</text>
<circle cx="181" cy="145.5" r="1.3" fill="#ff0000"/>
<text font-size="6.14" fill="#111" stroke="#111" stroke-width="0.15" dominant-baseline="central" transform="translate(188.87 146.56) rotate(0.1) scale(1 1.12)">WT</text>
<circle cx="209.3" cy="145.5" r="1.3" fill="#0000ff"/>
<text font-size="6.23" fill="#111" stroke="#111" stroke-width="0.15" dominant-baseline="central" transform="translate(216.64 146.57) rotate(0.1) scale(1 1.12)">Ifnar1 KO</text>
<line x1="176.8" y1="162.4" x2="176.8" y2="182" stroke="#ff8080" stroke-width="0.8"/>
<line x1="174.5" y1="162.4" x2="179.1" y2="162.4" stroke="#ff8080" stroke-width="0.8"/>
<line x1="174.5" y1="182" x2="179.1" y2="182" stroke="#ff8080" stroke-width="0.8"/>
<line x1="172.1" y1="172.4" x2="181.5" y2="172.4" stroke="#555" stroke-width="0.8"/>
<circle cx="176.8" cy="162.4" r="1.6" fill="#ff0000"/>
<circle cx="176.8" cy="175.2" r="1.6" fill="#ff0000"/>
<circle cx="176.8" cy="180.1" r="1.6" fill="#ff0000"/>
<line x1="190.5" y1="160.5" x2="190.5" y2="172.4" stroke="#0000ff" stroke-width="0.8"/>
<line x1="188.2" y1="160.5" x2="192.8" y2="160.5" stroke="#0000ff" stroke-width="0.8"/>
<line x1="188.2" y1="172.4" x2="192.8" y2="172.4" stroke="#0000ff" stroke-width="0.8"/>
<line x1="185.9" y1="167.4" x2="195.1" y2="167.4" stroke="#444" stroke-width="0.8"/>
<circle cx="190.5" cy="160.5" r="1.6" fill="#0000ff"/>
<circle cx="190.5" cy="168.3" r="1.6" fill="#0000ff"/>
<circle cx="190.5" cy="172.4" r="1.6" fill="#0000ff"/>
<line x1="213" y1="166.4" x2="213" y2="177.5" stroke="#ff8080" stroke-width="0.8"/>
<line x1="210.7" y1="166.4" x2="215.3" y2="166.4" stroke="#ff8080" stroke-width="0.8"/>
<line x1="210.7" y1="177.5" x2="215.3" y2="177.5" stroke="#ff8080" stroke-width="0.8"/>
<line x1="208.9" y1="171.9" x2="217.1" y2="171.9" stroke="#999" stroke-width="0.8"/>
<circle cx="209.7" cy="168" r="1.6" fill="#ff0000"/>
<circle cx="216.2" cy="169.4" r="1.6" fill="#ff0000"/>
<circle cx="213.1" cy="177.5" r="1.6" fill="#ff0000"/>
<line x1="226.5" y1="170.5" x2="226.5" y2="177.3" stroke="#0000ff" stroke-width="0.8"/>
<line x1="224.2" y1="170.5" x2="228.8" y2="170.5" stroke="#0000ff" stroke-width="0.8"/>
<line x1="224.2" y1="177.3" x2="228.8" y2="177.3" stroke="#0000ff" stroke-width="0.8"/>
<line x1="222.6" y1="174" x2="230.4" y2="174" stroke="#444" stroke-width="0.8"/>
<circle cx="226.5" cy="170.3" r="1.6" fill="#0000ff"/>
<circle cx="223.7" cy="177.3" r="1.6" fill="#0000ff"/>
<circle cx="229.8" cy="174.8" r="1.6" fill="#0000ff"/>
<line x1="249.2" y1="177.5" x2="249.2" y2="182" stroke="#ff8080" stroke-width="0.8"/>
<line x1="246.9" y1="177.5" x2="251.5" y2="177.5" stroke="#ff8080" stroke-width="0.8"/>
<line x1="246.9" y1="182" x2="251.5" y2="182" stroke="#ff8080" stroke-width="0.8"/>
<line x1="245.3" y1="178.8" x2="253.1" y2="178.8" stroke="#999" stroke-width="0.8"/>
<circle cx="245.8" cy="178.3" r="1.6" fill="#ff0000"/>
<circle cx="252.1" cy="178.8" r="1.6" fill="#ff0000"/>
<circle cx="249.2" cy="182.5" r="1.6" fill="#ff0000"/>
<line x1="262.6" y1="173.5" x2="262.6" y2="187.3" stroke="#0000ff" stroke-width="0.8"/>
<line x1="258.9" y1="173.5" x2="266.3" y2="173.5" stroke="#0000ff" stroke-width="0.8"/>
<line x1="258.9" y1="187.3" x2="266.3" y2="187.3" stroke="#0000ff" stroke-width="0.8"/>
<line x1="258.3" y1="180.2" x2="266.9" y2="180.2" stroke="#444" stroke-width="0.8"/>
<circle cx="259.6" cy="174.4" r="1.6" fill="#0000ff"/>
<circle cx="266" cy="177.7" r="1.6" fill="#0000ff"/>
<circle cx="262.7" cy="187.3" r="1.6" fill="#0000ff"/>
<text font-size="7.59" fill="#111" stroke="#111" stroke-width="0.15" dominant-baseline="central" transform="translate(216.89 251.59) rotate(0.1) scale(1 1.12)">Mon</text>
<line x1="167" y1="264.5" x2="167" y2="341.4" stroke="#555" stroke-width="0.8"/>
<line x1="165" y1="275.5" x2="167" y2="275.5" stroke="#555" stroke-width="0.7"/>
<line x1="165" y1="297.4" x2="167" y2="297.4" stroke="#555" stroke-width="0.7"/>
<line x1="165" y1="319.4" x2="167" y2="319.4" stroke="#555" stroke-width="0.7"/>
<line x1="165" y1="341.4" x2="167" y2="341.4" stroke="#555" stroke-width="0.7"/>
<text font-size="6.2" text-anchor="end" fill="#111" stroke="#111" stroke-width="0.15" dominant-baseline="central" transform="translate(164.8 276.57) rotate(0.1) scale(1 1.12)">1.2×10<tspan font-size="3.72" dy="-2.17">5</tspan></text>
<text font-size="6.2" text-anchor="end" fill="#111" stroke="#111" stroke-width="0.15" dominant-baseline="central" transform="translate(164.8 298.47) rotate(0.1) scale(1 1.12)">8×10<tspan font-size="3.72" dy="-2.17">4</tspan></text>
<text font-size="6.2" text-anchor="end" fill="#111" stroke="#111" stroke-width="0.15" dominant-baseline="central" transform="translate(164.8 320.29) rotate(0.1) scale(1 1.12)">4×10<tspan font-size="3.72" dy="-2.17">4</tspan></text>
<text font-size="6.2" fill="#111" stroke="#111" stroke-width="0.15" dominant-baseline="central" transform="translate(161.08 342.06) rotate(0.1) scale(1 1.12)">0</text>
<line x1="167" y1="341.4" x2="282.5" y2="341.4" stroke="#555" stroke-width="0.8"/>
<line x1="185.8" y1="341.4" x2="185.8" y2="343.4" stroke="#555" stroke-width="0.7"/>
<text font-size="5.9" fill="#111" stroke="#111" stroke-width="0.15" dominant-baseline="central" transform="translate(181.61 348.74) rotate(0.1) scale(1 1.12)">1:1</text>
<line x1="224.2" y1="341.4" x2="224.2" y2="343.4" stroke="#555" stroke-width="0.7"/>
<text font-size="5.9" fill="#111" stroke="#111" stroke-width="0.15" dominant-baseline="central" transform="translate(220.03 349.48) rotate(0.1) scale(1 1.12)">1:2</text>
<line x1="263" y1="341.4" x2="263" y2="343.4" stroke="#555" stroke-width="0.7"/>
<text font-size="5.9" fill="#111" stroke="#111" stroke-width="0.15" dominant-baseline="central" transform="translate(258.75 348.74) rotate(0.1) scale(1 1.12)">1:4</text>
<text font-size="6.44" fill="#111" stroke="#111" stroke-width="0.15" dominant-baseline="central" transform="translate(206.28 358.23) rotate(0.1) scale(1 1.12)">Mon :T Cells</text>
<text font-size="6.22" fill="#111" stroke="#111" stroke-width="0.15" dominant-baseline="central" transform="translate(135.36 309.51) rotate(-89.9)">CPM</text>
<circle cx="182.6" cy="262.9" r="1.3" fill="#ff0000"/>
<text font-size="6.08" fill="#111" stroke="#111" stroke-width="0.15" dominant-baseline="central" transform="translate(191.67 263.93) rotate(0.1) scale(1 1.12)">WT</text>
<circle cx="213.1" cy="263.2" r="1.3" fill="#0000ff"/>
<text font-size="6.62" fill="#111" stroke="#111" stroke-width="0.15" dominant-baseline="central" transform="translate(221 264.34) rotate(0.1) scale(1 1.12)">Ifnar1 KO</text>
<line x1="178.5" y1="278" x2="178.5" y2="296.5" stroke="#ff0000" stroke-width="0.8"/>
<line x1="176.2" y1="278" x2="180.8" y2="278" stroke="#ff0000" stroke-width="0.8"/>
<line x1="176.2" y1="296.5" x2="180.8" y2="296.5" stroke="#ff0000" stroke-width="0.8"/>
<line x1="173.8" y1="288.2" x2="183.2" y2="288.2" stroke="#555" stroke-width="0.8"/>
<circle cx="178.5" cy="278.3" r="1.6" fill="#ff0000"/>
<circle cx="175.2" cy="293.7" r="1.6" fill="#ff0000"/>
<circle cx="181.8" cy="292.5" r="1.6" fill="#ff0000"/>
<line x1="193.3" y1="275.2" x2="193.3" y2="287.6" stroke="#0000ff" stroke-width="0.8"/>
<line x1="191" y1="275.2" x2="195.6" y2="275.2" stroke="#0000ff" stroke-width="0.8"/>
<line x1="191" y1="287.6" x2="195.6" y2="287.6" stroke="#0000ff" stroke-width="0.8"/>
<line x1="188.6" y1="281.3" x2="198" y2="281.3" stroke="#444" stroke-width="0.8"/>
<circle cx="193.3" cy="275.2" r="1.6" fill="#0000ff"/>
<circle cx="193.3" cy="282.5" r="1.6" fill="#0000ff"/>
<circle cx="193.3" cy="287.6" r="1.6" fill="#0000ff"/>
<line x1="217.2" y1="279.3" x2="217.2" y2="295.8" stroke="#ff8080" stroke-width="0.8"/>
<line x1="214.9" y1="279.3" x2="219.5" y2="279.3" stroke="#ff8080" stroke-width="0.8"/>
<line x1="214.9" y1="295.8" x2="219.5" y2="295.8" stroke="#ff8080" stroke-width="0.8"/>
<line x1="212.2" y1="287.1" x2="222.2" y2="287.1" stroke="#666" stroke-width="0.8"/>
<circle cx="213.9" cy="281.3" r="1.6" fill="#ff0000"/>
<circle cx="220.5" cy="283.4" r="1.6" fill="#ff0000"/>
<circle cx="217.2" cy="295.8" r="1.6" fill="#ff0000"/>
<line x1="231.5" y1="284.6" x2="231.5" y2="294.8" stroke="#0000ff" stroke-width="0.8"/>
<line x1="229.2" y1="284.6" x2="233.8" y2="284.6" stroke="#0000ff" stroke-width="0.8"/>
<line x1="229.2" y1="294.8" x2="233.8" y2="294.8" stroke="#0000ff" stroke-width="0.8"/>
<line x1="227" y1="290" x2="236" y2="290" stroke="#444" stroke-width="0.8"/>
<circle cx="231.5" cy="284.6" r="1.6" fill="#0000ff"/>
<circle cx="231.5" cy="290.4" r="1.6" fill="#0000ff"/>
<circle cx="231.5" cy="294.8" r="1.6" fill="#0000ff"/>
<line x1="255.6" y1="296.5" x2="255.6" y2="302.4" stroke="#ff8080" stroke-width="0.8"/>
<line x1="253.3" y1="296.5" x2="257.9" y2="296.5" stroke="#ff8080" stroke-width="0.8"/>
<line x1="253.3" y1="302.4" x2="257.9" y2="302.4" stroke="#ff8080" stroke-width="0.8"/>
<line x1="250.7" y1="299.1" x2="260.5" y2="299.1" stroke="#666" stroke-width="0.8"/>
<circle cx="252.3" cy="296.5" r="1.6" fill="#ff0000"/>
<circle cx="258.4" cy="297.8" r="1.6" fill="#ff0000"/>
<circle cx="255.6" cy="302.4" r="1.6" fill="#ff0000"/>
<line x1="270.4" y1="291.5" x2="270.4" y2="305.2" stroke="#7070ff" stroke-width="0.8"/>
<line x1="268.1" y1="291.5" x2="272.7" y2="291.5" stroke="#7070ff" stroke-width="0.8"/>
<line x1="268.1" y1="305.2" x2="272.7" y2="305.2" stroke="#7070ff" stroke-width="0.8"/>
<line x1="265.5" y1="297.4" x2="275.3" y2="297.4" stroke="#444" stroke-width="0.8"/>
<circle cx="270.4" cy="291.5" r="1.6" fill="#0000ff"/>
<circle cx="270.4" cy="295.8" r="1.6" fill="#0000ff"/>
<circle cx="270.4" cy="305.2" r="1.6" fill="#0000ff"/>
<text font-size="9.8" font-weight="bold" fill="#000" stroke="#111" stroke-width="0.12" dominant-baseline="central" transform="translate(283.78 126.18) rotate(0.1) scale(1 1)">e</text>
<text font-size="5.2" fill="#111" stroke="#111" stroke-width="0.12" dominant-baseline="central" transform="translate(342.48 130.8) rotate(0.1) scale(1 1.12)">PMN-MDSC</text>
<line x1="308.7" y1="139.4" x2="308.7" y2="203.3" stroke="#555" stroke-width="0.8"/>
<line x1="306.7" y1="139.4" x2="308.7" y2="139.4" stroke="#555" stroke-width="0.7"/>
<text font-size="5.3" fill="#111" stroke="#111" stroke-width="0.12" dominant-baseline="central" transform="translate(300.2 140.31) rotate(0.1) scale(1 1.12)">40</text>
<line x1="306.7" y1="155.38" x2="308.7" y2="155.38" stroke="#555" stroke-width="0.7"/>
<text font-size="5.3" fill="#111" stroke="#111" stroke-width="0.12" dominant-baseline="central" transform="translate(300.2 156.29) rotate(0.1) scale(1 1.12)">30</text>
<line x1="306.7" y1="171.36" x2="308.7" y2="171.36" stroke="#555" stroke-width="0.7"/>
<text font-size="5.3" fill="#111" stroke="#111" stroke-width="0.12" dominant-baseline="central" transform="translate(300.2 172.27) rotate(0.1) scale(1 1.12)">20</text>
<line x1="306.7" y1="187.34" x2="308.7" y2="187.34" stroke="#555" stroke-width="0.7"/>
<text font-size="5.3" fill="#111" stroke="#111" stroke-width="0.12" dominant-baseline="central" transform="translate(300.2 188.25) rotate(0.1) scale(1 1.12)">10</text>
<line x1="306.7" y1="203.32" x2="308.7" y2="203.32" stroke="#555" stroke-width="0.7"/>
<text font-size="5.3" fill="#111" stroke="#111" stroke-width="0.12" dominant-baseline="central" transform="translate(303.14 204.23) rotate(0.1) scale(1 1.12)">0</text>
<line x1="308.7" y1="203.3" x2="400" y2="203.3" stroke="#555" stroke-width="0.8"/>
<line x1="324.7" y1="203.3" x2="324.7" y2="205.3" stroke="#555" stroke-width="0.7"/>
<text font-size="5.5" fill="#111" stroke="#111" stroke-width="0.12" dominant-baseline="central" transform="translate(315.89 209.89) rotate(0.1) scale(1 1.12)">Control</text>
<line x1="356.7" y1="203.3" x2="356.7" y2="205.3" stroke="#555" stroke-width="0.7"/>
<text font-size="5.5" fill="#111" stroke="#111" stroke-width="0.12" dominant-baseline="central" transform="translate(352.46 210.05) rotate(0.1) scale(1 1.12)">WT</text>
<line x1="389.1" y1="203.3" x2="389.1" y2="205.3" stroke="#555" stroke-width="0.7"/>
<text font-size="5.5" fill="#111" stroke="#111" stroke-width="0.12" dominant-baseline="central" transform="translate(385.04 209.79) rotate(0.1) scale(1 1.12)">KO</text>
<text font-size="5.2" fill="#111" stroke="#111" stroke-width="0.12" dominant-baseline="central" transform="translate(285.79 172.6) rotate(0.1) scale(1 1.12)">%</text>
<text font-size="5.18" fill="#111" stroke="#111" stroke-width="0.12" dominant-baseline="central" transform="translate(295.8 188.21) rotate(-89.9)">out of live cells</text>
<line x1="314" y1="196.3" x2="335.5" y2="196.3" stroke="#666" stroke-width="0.9"/>
<circle cx="322.3" cy="195.3" r="1.35" fill="#000"/>
<circle cx="322.3" cy="198.1" r="1.35" fill="#000"/>
<circle cx="327.2" cy="196.1" r="1.35" fill="#000"/>
<line x1="356.7" y1="166.2" x2="356.7" y2="184.3" stroke="#aaa" stroke-width="0.8"/>
<line x1="351.3" y1="166.2" x2="362.1" y2="166.2" stroke="#555" stroke-width="0.8"/>
<line x1="351.3" y1="184.3" x2="362.1" y2="184.3" stroke="#555" stroke-width="0.8"/>
<line x1="346.1" y1="175.5" x2="367.3" y2="175.5" stroke="#444" stroke-width="0.8"/>
<circle cx="356.7" cy="157.5" r="1.35" fill="#000"/>
<circle cx="356.7" cy="179.8" r="1.35" fill="#000"/>
<circle cx="356.7" cy="189.1" r="1.35" fill="#000"/>
<line x1="389.1" y1="149.3" x2="389.1" y2="164.3" stroke="#aaa" stroke-width="0.8"/>
<line x1="383.6" y1="149.3" x2="394.6" y2="149.3" stroke="#555" stroke-width="0.8"/>
<line x1="383.6" y1="164.3" x2="394.6" y2="164.3" stroke="#555" stroke-width="0.8"/>
<line x1="378.3" y1="156.5" x2="399.9" y2="156.5" stroke="#444" stroke-width="0.8"/>
<circle cx="389.1" cy="144.5" r="1.35" fill="#000"/>
<circle cx="389.1" cy="154" r="1.35" fill="#000"/>
<circle cx="389.1" cy="170.9" r="1.35" fill="#000"/>
<text font-size="5.48" fill="#111" stroke="#111" stroke-width="0.12" dominant-baseline="central" transform="translate(474.56 131.95) rotate(0.1) scale(1 1.12)">M-MDSC</text>
<line x1="437.3" y1="140.2" x2="437.3" y2="204.6" stroke="#555" stroke-width="0.8"/>
<line x1="435.3" y1="140.2" x2="437.3" y2="140.2" stroke="#555" stroke-width="0.7"/>
<text font-size="5.3" fill="#111" stroke="#111" stroke-width="0.12" dominant-baseline="central" transform="translate(428.8 141.11) rotate(0.1) scale(1 1.12)">10</text>
<line x1="435.3" y1="153.08" x2="437.3" y2="153.08" stroke="#555" stroke-width="0.7"/>
<text font-size="5.3" fill="#111" stroke="#111" stroke-width="0.12" dominant-baseline="central" transform="translate(431.77 153.98) rotate(0.1) scale(1 1.12)">8</text>
<line x1="435.3" y1="165.96" x2="437.3" y2="165.96" stroke="#555" stroke-width="0.7"/>
<text font-size="5.3" fill="#111" stroke="#111" stroke-width="0.12" dominant-baseline="central" transform="translate(431.77 167.36) rotate(0.1) scale(1 1.12)">6</text>
<line x1="435.3" y1="178.84" x2="437.3" y2="178.84" stroke="#555" stroke-width="0.7"/>
<text font-size="5.3" fill="#111" stroke="#111" stroke-width="0.12" dominant-baseline="central" transform="translate(431.69 180.08) rotate(0.1) scale(1 1.12)">4</text>
<line x1="435.3" y1="191.72" x2="437.3" y2="191.72" stroke="#555" stroke-width="0.7"/>
<text font-size="5.3" fill="#111" stroke="#111" stroke-width="0.12" dominant-baseline="central" transform="translate(431.82 192.63) rotate(0.1) scale(1 1.12)">2</text>
<line x1="435.3" y1="204.6" x2="437.3" y2="204.6" stroke="#555" stroke-width="0.7"/>
<text font-size="5.3" fill="#111" stroke="#111" stroke-width="0.12" dominant-baseline="central" transform="translate(431.74 205.51) rotate(0.1) scale(1 1.12)">0</text>
<line x1="437.3" y1="204.6" x2="533.7" y2="204.6" stroke="#555" stroke-width="0.8"/>
<line x1="454" y1="204.6" x2="454" y2="206.6" stroke="#555" stroke-width="0.7"/>
<text font-size="5.5" fill="#111" stroke="#111" stroke-width="0.12" dominant-baseline="central" transform="translate(445.19 211.25) rotate(0.1) scale(1 1.12)">Control</text>
<line x1="485.7" y1="204.6" x2="485.7" y2="206.6" stroke="#555" stroke-width="0.7"/>
<text font-size="5.5" fill="#111" stroke="#111" stroke-width="0.12" dominant-baseline="central" transform="translate(481.46 211.25) rotate(0.1) scale(1 1.12)">WT</text>
<line x1="518" y1="204.6" x2="518" y2="206.6" stroke="#555" stroke-width="0.7"/>
<text font-size="5.5" fill="#111" stroke="#111" stroke-width="0.12" dominant-baseline="central" transform="translate(513.94 211.25) rotate(0.1) scale(1 1.12)">KO</text>
<text font-size="5.4" fill="#111" stroke="#111" stroke-width="0.12" dominant-baseline="central" transform="translate(425.13 190.22) rotate(-89.9)">out of live cells</text>
<line x1="453.8" y1="164.3" x2="453.8" y2="173.5" stroke="#999" stroke-width="0.7"/>
<line x1="448.7" y1="164.3" x2="458.9" y2="164.3" stroke="#444" stroke-width="0.7"/>
<line x1="448.7" y1="173.5" x2="458.9" y2="173.5" stroke="#444" stroke-width="0.7"/>
<line x1="443.2" y1="168.8" x2="464.4" y2="168.8" stroke="#ccc" stroke-width="1.5"/>
<circle cx="453.6" cy="160.6" r="1.35" fill="#000"/>
<circle cx="453.6" cy="169.8" r="1.35" fill="#000"/>
<circle cx="453.6" cy="176" r="1.35" fill="#000"/>
<line x1="485.8" y1="151.2" x2="485.8" y2="160.2" stroke="#999" stroke-width="0.7"/>
<line x1="480.6" y1="151.2" x2="491" y2="151.2" stroke="#444" stroke-width="0.7"/>
<line x1="480.6" y1="160.2" x2="491" y2="160.2" stroke="#444" stroke-width="0.7"/>
<line x1="475.3" y1="155.7" x2="496.3" y2="155.7" stroke="#ccc" stroke-width="1.5"/>
<circle cx="483.2" cy="151" r="1.35" fill="#000"/>
<circle cx="488.7" cy="152" r="1.35" fill="#000"/>
<circle cx="486" cy="164.7" r="1.35" fill="#000"/>
<line x1="518.3" y1="154" x2="518.3" y2="159.5" stroke="#999" stroke-width="0.7"/>
<line x1="513.3" y1="154" x2="523.3" y2="154" stroke="#444" stroke-width="0.7"/>
<line x1="513.3" y1="159.5" x2="523.3" y2="159.5" stroke="#444" stroke-width="0.7"/>
<line x1="507.7" y1="156.7" x2="528.9" y2="156.7" stroke="#ccc" stroke-width="1.5"/>
<circle cx="518" cy="153.7" r="1.35" fill="#000"/>
<circle cx="518" cy="156.7" r="1.35" fill="#000"/>
<circle cx="518" cy="159.6" r="1.35" fill="#000"/>
<line x1="316.5" y1="242.5" x2="316.5" y2="318.1" stroke="#555" stroke-width="0.8"/>
<line x1="314.5" y1="243.1" x2="316.5" y2="243.1" stroke="#555" stroke-width="0.7"/>
<line x1="314.5" y1="268.1" x2="316.5" y2="268.1" stroke="#555" stroke-width="0.7"/>
<line x1="314.5" y1="293.1" x2="316.5" y2="293.1" stroke="#555" stroke-width="0.7"/>
<line x1="314.5" y1="318.1" x2="316.5" y2="318.1" stroke="#555" stroke-width="0.7"/>
<text font-size="6" text-anchor="end" fill="#111" stroke="#111" stroke-width="0.12" dominant-baseline="central" transform="translate(314.4 244.13) rotate(0.1) scale(1 1.12)">1.5×10<tspan font-size="3.9" dy="-2.1">7</tspan></text>
<text font-size="6" text-anchor="end" fill="#111" stroke="#111" stroke-width="0.12" dominant-baseline="central" transform="translate(314.4 269.13) rotate(0.1) scale(1 1.12)">1×10<tspan font-size="3.9" dy="-2.1">7</tspan></text>
<text font-size="6" text-anchor="end" fill="#111" stroke="#111" stroke-width="0.12" dominant-baseline="central" transform="translate(314.4 294.13) rotate(0.1) scale(1 1.12)">5×10<tspan font-size="3.9" dy="-2.1">6</tspan></text>
<text font-size="5.4" fill="#111" stroke="#111" stroke-width="0.12" dominant-baseline="central" transform="translate(310.99 318.77) rotate(0.1) scale(1 1.12)">0</text>
<line x1="316.5" y1="318.1" x2="418.2" y2="318.1" stroke="#555" stroke-width="0.8"/>
<line x1="333.9" y1="318.1" x2="333.9" y2="320.1" stroke="#555" stroke-width="0.7"/>
<text font-size="5.5" fill="#111" stroke="#111" stroke-width="0.12" dominant-baseline="central" transform="translate(325.09 325.55) rotate(0.1) scale(1 1.12)">Control</text>
<line x1="367.8" y1="318.1" x2="367.8" y2="320.1" stroke="#555" stroke-width="0.7"/>
<text font-size="5.5" fill="#111" stroke="#111" stroke-width="0.12" dominant-baseline="central" transform="translate(363.56 325.55) rotate(0.1) scale(1 1.12)">WT</text>
<line x1="402" y1="318.1" x2="402" y2="320.1" stroke="#555" stroke-width="0.7"/>
<text font-size="5.5" fill="#111" stroke="#111" stroke-width="0.12" dominant-baseline="central" transform="translate(397.94 325.55) rotate(0.1) scale(1 1.12)">KO</text>
<text font-size="6.31" fill="#111" stroke="#111" stroke-width="0.12" dominant-baseline="central" transform="translate(287.87 309.3) rotate(-89.9)">Number of cells (10<tspan font-size="3.79" dy="-2.21">6</tspan><tspan dy="2.21">)</tspan></text>
<line x1="322.3" y1="313.5" x2="345" y2="313.5" stroke="#666" stroke-width="0.9"/>
<circle cx="328.1" cy="314.6" r="1.35" fill="#000"/>
<circle cx="333.4" cy="312.8" r="1.35" fill="#000"/>
<circle cx="339" cy="313.5" r="1.35" fill="#000"/>
<line x1="367.8" y1="293.4" x2="367.8" y2="310" stroke="#777" stroke-width="0.8"/>
<line x1="362" y1="293.4" x2="373.6" y2="293.4" stroke="#777" stroke-width="0.8"/>
<line x1="362" y1="310" x2="373.6" y2="310" stroke="#777" stroke-width="0.8"/>
<line x1="356.5" y1="301.5" x2="379.1" y2="301.5" stroke="#777" stroke-width="0.8"/>
<circle cx="367.8" cy="289.2" r="1.35" fill="#000"/>
<circle cx="367.8" cy="298.5" r="1.35" fill="#000"/>
<circle cx="367.8" cy="317.4" r="1.35" fill="#000"/>
<line x1="402" y1="263.3" x2="402" y2="278.5" stroke="#777" stroke-width="0.8"/>
<line x1="396.3" y1="263.3" x2="407.7" y2="263.3" stroke="#777" stroke-width="0.8"/>
<line x1="396.3" y1="278.5" x2="407.7" y2="278.5" stroke="#777" stroke-width="0.8"/>
<line x1="392.4" y1="270.4" x2="411.6" y2="270.4" stroke="#777" stroke-width="0.8"/>
<circle cx="402" cy="260.8" r="1.35" fill="#000"/>
<circle cx="402" cy="265.6" r="1.35" fill="#000"/>
<circle cx="402" cy="285.8" r="1.35" fill="#000"/>
<line x1="448.9" y1="250" x2="448.9" y2="318.1" stroke="#c8c8c8" stroke-width="1.5"/>
<line x1="446.9" y1="253.2" x2="448.9" y2="253.2" stroke="#555" stroke-width="0.7"/>
<line x1="446.9" y1="274.7" x2="448.9" y2="274.7" stroke="#555" stroke-width="0.7"/>
<line x1="446.9" y1="296.4" x2="448.9" y2="296.4" stroke="#555" stroke-width="0.7"/>
<line x1="446.9" y1="318.1" x2="448.9" y2="318.1" stroke="#555" stroke-width="0.7"/>
<text font-size="5.8" text-anchor="end" fill="#111" stroke="#111" stroke-width="0.12" dominant-baseline="central" transform="translate(447 254.2) rotate(0.1) scale(1 1.12)">3×10<tspan font-size="3.77" dy="-2.03">5</tspan></text>
<text font-size="5.8" text-anchor="end" fill="#111" stroke="#111" stroke-width="0.12" dominant-baseline="central" transform="translate(447 276.33) rotate(0.1) scale(1 1.12)">2×10<tspan font-size="3.77" dy="-2.03">5</tspan></text>
<text font-size="5.8" text-anchor="end" fill="#111" stroke="#111" stroke-width="0.12" dominant-baseline="central" transform="translate(447 298.16) rotate(0.1) scale(1 1.12)">1×10<tspan font-size="3.77" dy="-2.03">5</tspan></text>
<text font-size="5.4" fill="#111" stroke="#111" stroke-width="0.12" dominant-baseline="central" transform="translate(443.19 318.77) rotate(0.1) scale(1 1.12)">0</text>
<line x1="448.9" y1="318.1" x2="546.3" y2="318.1" stroke="#555" stroke-width="0.8"/>
<line x1="465.2" y1="318.1" x2="465.2" y2="320.1" stroke="#555" stroke-width="0.7"/>
<text font-size="5.5" fill="#111" stroke="#111" stroke-width="0.12" dominant-baseline="central" transform="translate(456.39 324.25) rotate(0.1) scale(1 1.12)">Control</text>
<line x1="497.2" y1="318.1" x2="497.2" y2="320.1" stroke="#555" stroke-width="0.7"/>
<text font-size="5.5" fill="#111" stroke="#111" stroke-width="0.12" dominant-baseline="central" transform="translate(492.96 324.55) rotate(0.1) scale(1 1.12)">WT</text>
<line x1="530" y1="318.1" x2="530" y2="320.1" stroke="#555" stroke-width="0.7"/>
<text font-size="5.5" fill="#111" stroke="#111" stroke-width="0.12" dominant-baseline="central" transform="translate(525.94 324.25) rotate(0.1) scale(1 1.12)">KO</text>
<text font-size="5.44" fill="#111" stroke="#111" stroke-width="0.12" dominant-baseline="central" transform="translate(427.04 311.04) rotate(-89.9)">Number of cells (10<tspan font-size="3.26" dy="-1.9">5</tspan><tspan dy="1.9">)</tspan></text>
<line x1="465.2" y1="288.9" x2="465.2" y2="295.9" stroke="#444" stroke-width="0.7"/>
<line x1="460" y1="288.9" x2="470.4" y2="288.9" stroke="#444" stroke-width="0.7"/>
<line x1="460" y1="295.9" x2="470.4" y2="295.9" stroke="#444" stroke-width="0.7"/>
<line x1="454.4" y1="292.4" x2="476" y2="292.4" stroke="#bbb" stroke-width="1.3"/>
<circle cx="465.2" cy="287.1" r="1.35" fill="#000"/>
<circle cx="465.2" cy="293.4" r="1.35" fill="#000"/>
<circle cx="465.2" cy="297.6" r="1.35" fill="#000"/>
<line x1="497.6" y1="275.4" x2="497.6" y2="303.4" stroke="#aaa" stroke-width="0.8"/>
<line x1="491.8" y1="275.4" x2="503.4" y2="275.4" stroke="#555" stroke-width="0.8"/>
<line x1="491.8" y1="303.4" x2="503.4" y2="303.4" stroke="#555" stroke-width="0.8"/>
<line x1="486.8" y1="288.9" x2="508.4" y2="288.9" stroke="#555" stroke-width="0.9"/>
<circle cx="497.2" cy="269.5" r="1.35" fill="#000"/>
<circle cx="497.2" cy="282.4" r="1.35" fill="#000"/>
<circle cx="497.2" cy="315.8" r="1.35" fill="#000"/>
<line x1="530.5" y1="262.3" x2="530.5" y2="268.4" stroke="#aaa" stroke-width="0.8"/>
<line x1="525.3" y1="262.3" x2="535.7" y2="262.3" stroke="#555" stroke-width="0.8"/>
<line x1="525.3" y1="268.4" x2="535.7" y2="268.4" stroke="#555" stroke-width="0.8"/>
<line x1="519.4" y1="265.3" x2="541.6" y2="265.3" stroke="#555" stroke-width="0.8"/>
<circle cx="530.4" cy="259.5" r="1.35" fill="#000"/>
<circle cx="527.6" cy="269.5" r="1.35" fill="#000"/>
<circle cx="533.5" cy="267.9" r="1.35" fill="#000"/>
<text font-size="9.8" font-weight="bold" fill="#000" stroke="#111" stroke-width="0.1" dominant-baseline="central" transform="translate(544.03 120.89) rotate(0.1) scale(1 1)">f</text>
<text font-size="6.35" fill="#111" stroke="#111" stroke-width="0.1" dominant-baseline="central" transform="translate(619.81 119.51) rotate(0.1) scale(1 1.12)">Spleen</text>
<line x1="579" y1="130.3" x2="579" y2="197.4" stroke="#999" stroke-width="0.9"/>
<line x1="577" y1="130.6" x2="579" y2="130.6" stroke="#555" stroke-width="0.7"/>
<text font-size="5.4" fill="#111" stroke="#111" stroke-width="0.1" dominant-baseline="central" transform="translate(567.6 131.53) rotate(0.1) scale(1 1.12)">100</text>
<line x1="577" y1="143.96" x2="579" y2="143.96" stroke="#555" stroke-width="0.7"/>
<text font-size="5.4" fill="#111" stroke="#111" stroke-width="0.1" dominant-baseline="central" transform="translate(570.6 144.89) rotate(0.1) scale(1 1.12)">80</text>
<line x1="577" y1="157.32" x2="579" y2="157.32" stroke="#555" stroke-width="0.7"/>
<text font-size="5.4" fill="#111" stroke="#111" stroke-width="0.1" dominant-baseline="central" transform="translate(570.6 158.25) rotate(0.1) scale(1 1.12)">60</text>
<line x1="577" y1="170.68" x2="579" y2="170.68" stroke="#555" stroke-width="0.7"/>
<text font-size="5.4" fill="#111" stroke="#111" stroke-width="0.1" dominant-baseline="central" transform="translate(570.6 171.61) rotate(0.1) scale(1 1.12)">40</text>
<line x1="577" y1="184.04" x2="579" y2="184.04" stroke="#555" stroke-width="0.7"/>
<text font-size="5.4" fill="#111" stroke="#111" stroke-width="0.1" dominant-baseline="central" transform="translate(570.6 184.97) rotate(0.1) scale(1 1.12)">20</text>
<line x1="577" y1="197.4" x2="579" y2="197.4" stroke="#555" stroke-width="0.7"/>
<text font-size="5.4" fill="#111" stroke="#111" stroke-width="0.1" dominant-baseline="central" transform="translate(573.59 198.33) rotate(0.1) scale(1 1.12)">0</text>
<line x1="579" y1="197.4" x2="681" y2="197.4" stroke="#999" stroke-width="0.9"/>
<line x1="594.7" y1="197.4" x2="594.7" y2="199.4" stroke="#555" stroke-width="0.7"/>
<text font-size="5.4" fill="#111" stroke="#111" stroke-width="0.1" dominant-baseline="central" transform="translate(590.87 204.53) rotate(0.1) scale(1 1.12)">1:1</text>
<line x1="629.9" y1="197.4" x2="629.9" y2="199.4" stroke="#555" stroke-width="0.7"/>
<text font-size="5.4" fill="#111" stroke="#111" stroke-width="0.1" dominant-baseline="central" transform="translate(626.08 204.53) rotate(0.1) scale(1 1.12)">1:2</text>
<line x1="664.6" y1="197.4" x2="664.6" y2="199.4" stroke="#555" stroke-width="0.7"/>
<text font-size="5.4" fill="#111" stroke="#111" stroke-width="0.1" dominant-baseline="central" transform="translate(660.71 204.53) rotate(0.1) scale(1 1.12)">1:4</text>
<text font-size="5.61" fill="#111" stroke="#111" stroke-width="0.1" dominant-baseline="central" transform="translate(604.25 213.07) rotate(0.1) scale(1 1.12)">PMN-MDSCs:T cells</text>
<text font-size="5.63" fill="#111" stroke="#111" stroke-width="0.1" dominant-baseline="central" transform="translate(562.17 185) rotate(-89.9)">% of Proliferation</text>
<circle cx="586.6" cy="129.3" r="1.45" fill="#ff0000"/>
<text font-size="5.36" fill="#111" stroke="#111" stroke-width="0.1" dominant-baseline="central" transform="translate(594.37 130.52) rotate(0.1) scale(1 1.12)">WT</text>
<circle cx="586.6" cy="138.3" r="1.45" fill="#0000ff"/>
<text font-size="5.77" fill="#111" stroke="#111" stroke-width="0.1" dominant-baseline="central" transform="translate(593.88 139.3) rotate(0.1) scale(1 1.12)">Ifnar1 KO</text>
<line x1="588" y1="151.5" x2="588" y2="165.2" stroke="#ff8080" stroke-width="0.8"/>
<line x1="586" y1="151.5" x2="590" y2="151.5" stroke="#ff8080" stroke-width="0.8"/>
<line x1="586" y1="165.2" x2="590" y2="165.2" stroke="#ff8080" stroke-width="0.8"/>
<line x1="583.7" y1="159.4" x2="592.3" y2="159.4" stroke="#555" stroke-width="0.8"/>
<circle cx="587.8" cy="151.6" r="1.45" fill="#ff0000"/>
<circle cx="587.8" cy="160.6" r="1.45" fill="#ff0000"/>
<circle cx="587.8" cy="165.5" r="1.45" fill="#ff0000"/>
<line x1="601.2" y1="153.2" x2="601.2" y2="174.7" stroke="#7070ff" stroke-width="0.8"/>
<line x1="599" y1="153.2" x2="603.4" y2="153.2" stroke="#7070ff" stroke-width="0.8"/>
<line x1="599" y1="174.7" x2="603.4" y2="174.7" stroke="#7070ff" stroke-width="0.8"/>
<line x1="596.8" y1="163.2" x2="605.6" y2="163.2" stroke="#555" stroke-width="0.8"/>
<circle cx="601" cy="155.8" r="1.45" fill="#0000ff"/>
<circle cx="601" cy="158.6" r="1.45" fill="#0000ff"/>
<circle cx="601" cy="174.7" r="1.45" fill="#0000ff"/>
<line x1="621.5" y1="145.4" x2="621.5" y2="149" stroke="#ff8080" stroke-width="0.8"/>
<line x1="619.5" y1="145.4" x2="623.5" y2="145.4" stroke="#ff8080" stroke-width="0.8"/>
<line x1="619.5" y1="149" x2="623.5" y2="149" stroke="#ff8080" stroke-width="0.8"/>
<line x1="618" y1="147.6" x2="625" y2="147.6" stroke="#999" stroke-width="0.8"/>
<circle cx="619.8" cy="145.4" r="1.45" fill="#ff0000"/>
<circle cx="619.8" cy="149" r="1.45" fill="#ff0000"/>
<circle cx="626" cy="148.2" r="1.45" fill="#ff0000"/>
<line x1="636.4" y1="141" x2="636.4" y2="159.1" stroke="#7070ff" stroke-width="0.8"/>
<line x1="633.9" y1="141" x2="638.9" y2="141" stroke="#7070ff" stroke-width="0.8"/>
<line x1="633.9" y1="159.1" x2="638.9" y2="159.1" stroke="#7070ff" stroke-width="0.8"/>
<line x1="632" y1="150.4" x2="640.8" y2="150.4" stroke="#555" stroke-width="0.8"/>
<circle cx="636.2" cy="140.5" r="1.45" fill="#0000ff"/>
<circle cx="633" cy="155.8" r="1.45" fill="#0000ff"/>
<circle cx="639.2" cy="155.3" r="1.45" fill="#0000ff"/>
<line x1="658.1" y1="132.5" x2="658.1" y2="148.7" stroke="#ff8080" stroke-width="0.8"/>
<line x1="656.1" y1="132.5" x2="660.1" y2="132.5" stroke="#ff8080" stroke-width="0.8"/>
<line x1="656.1" y1="148.7" x2="660.1" y2="148.7" stroke="#ff8080" stroke-width="0.8"/>
<line x1="653.6" y1="140.8" x2="662.6" y2="140.8" stroke="#999" stroke-width="0.8"/>
<circle cx="658" cy="131.4" r="1.45" fill="#ff0000"/>
<circle cx="655.2" cy="145.9" r="1.45" fill="#ff0000"/>
<circle cx="661.3" cy="144.9" r="1.45" fill="#ff0000"/>
<line x1="671.2" y1="132.2" x2="671.2" y2="152.3" stroke="#0000ff" stroke-width="0.8"/>
<line x1="669.2" y1="132.2" x2="673.2" y2="132.2" stroke="#0000ff" stroke-width="0.8"/>
<line x1="669.2" y1="152.3" x2="673.2" y2="152.3" stroke="#0000ff" stroke-width="0.8"/>
<line x1="666.7" y1="142.5" x2="675.7" y2="142.5" stroke="#444" stroke-width="0.8"/>
<circle cx="671.2" cy="132.2" r="1.45" fill="#0000ff"/>
<circle cx="671.2" cy="143" r="1.45" fill="#0000ff"/>
<circle cx="671.2" cy="152.3" r="1.45" fill="#0000ff"/>
<text font-size="5.28" fill="#111" stroke="#111" stroke-width="0.1" dominant-baseline="central" transform="translate(627.09 231.36) rotate(0.1) scale(1 1.12)">Tumor</text>
<line x1="582.8" y1="240.2" x2="582.8" y2="307.6" stroke="#999" stroke-width="0.9"/>
<line x1="580.8" y1="240.4" x2="582.8" y2="240.4" stroke="#555" stroke-width="0.7"/>
<text font-size="5.4" fill="#111" stroke="#111" stroke-width="0.1" dominant-baseline="central" transform="translate(574.39 241.33) rotate(0.1) scale(1 1.12)">80</text>
<line x1="580.8" y1="257.2" x2="582.8" y2="257.2" stroke="#555" stroke-width="0.7"/>
<text font-size="5.4" fill="#111" stroke="#111" stroke-width="0.1" dominant-baseline="central" transform="translate(574.39 258.13) rotate(0.1) scale(1 1.12)">60</text>
<line x1="580.8" y1="274" x2="582.8" y2="274" stroke="#555" stroke-width="0.7"/>
<text font-size="5.4" fill="#111" stroke="#111" stroke-width="0.1" dominant-baseline="central" transform="translate(574.39 275.05) rotate(0.1) scale(1 1.12)">40</text>
<line x1="580.8" y1="290.8" x2="582.8" y2="290.8" stroke="#555" stroke-width="0.7"/>
<text font-size="5.4" fill="#111" stroke="#111" stroke-width="0.1" dominant-baseline="central" transform="translate(574.39 291.83) rotate(0.1) scale(1 1.12)">20</text>
<line x1="580.8" y1="307.6" x2="582.8" y2="307.6" stroke="#555" stroke-width="0.7"/>
<text font-size="5.4" fill="#111" stroke="#111" stroke-width="0.1" dominant-baseline="central" transform="translate(577.39 308.53) rotate(0.1) scale(1 1.12)">0</text>
<line x1="582.8" y1="307.6" x2="685" y2="307.6" stroke="#999" stroke-width="0.9"/>
<line x1="599.8" y1="307.6" x2="599.8" y2="309.6" stroke="#555" stroke-width="0.7"/>
<text font-size="5.4" fill="#111" stroke="#111" stroke-width="0.1" dominant-baseline="central" transform="translate(595.97 314.53) rotate(0.1) scale(1 1.12)">1:1</text>
<line x1="634.6" y1="307.6" x2="634.6" y2="309.6" stroke="#555" stroke-width="0.7"/>
<text font-size="5.4" fill="#111" stroke="#111" stroke-width="0.1" dominant-baseline="central" transform="translate(630.78 314.23) rotate(0.1) scale(1 1.12)">1:2</text>
<line x1="669.3" y1="307.6" x2="669.3" y2="309.6" stroke="#555" stroke-width="0.7"/>
<text font-size="5.4" fill="#111" stroke="#111" stroke-width="0.1" dominant-baseline="central" transform="translate(665.41 314.23) rotate(0.1) scale(1 1.12)">1:4</text>
<text font-size="5.59" fill="#111" stroke="#111" stroke-width="0.1" dominant-baseline="central" transform="translate(608.95 323.26) rotate(0.1) scale(1 1.12)">PMN-MDSCs:T cells</text>
<text font-size="5.69" fill="#111" stroke="#111" stroke-width="0.1" dominant-baseline="central" transform="translate(572.18 295.6) rotate(-89.9)">% of Proliferation</text>
<circle cx="591" cy="239" r="1.45" fill="#ff0000"/>
<text font-size="5.36" fill="#111" stroke="#111" stroke-width="0.1" dominant-baseline="central" transform="translate(598.57 240.04) rotate(0.1) scale(1 1.12)">WT</text>
<circle cx="591" cy="248.2" r="1.45" fill="#0000ff"/>
<text font-size="5.82" fill="#111" stroke="#111" stroke-width="0.1" dominant-baseline="central" transform="translate(598.08 249.2) rotate(0.1) scale(1 1.12)">Ifnar1 KO</text>
<line x1="592.5" y1="287.6" x2="592.5" y2="304.5" stroke="#ff8080" stroke-width="0.8"/>
<line x1="590.4" y1="287.6" x2="594.6" y2="287.6" stroke="#ff8080" stroke-width="0.8"/>
<line x1="590.4" y1="304.5" x2="594.6" y2="304.5" stroke="#ff8080" stroke-width="0.8"/>
<line x1="588.2" y1="295.3" x2="596.8" y2="295.3" stroke="#888" stroke-width="0.8"/>
<circle cx="592.5" cy="289.6" r="1.45" fill="#ff0000"/>
<circle cx="592.5" cy="301.9" r="1.45" fill="#ff0000"/>
<line x1="605.5" y1="282.4" x2="605.5" y2="287.8" stroke="#7070ff" stroke-width="0.8"/>
<line x1="603.2" y1="282.4" x2="607.8" y2="282.4" stroke="#7070ff" stroke-width="0.8"/>
<line x1="603.2" y1="287.8" x2="607.8" y2="287.8" stroke="#7070ff" stroke-width="0.8"/>
<line x1="600.8" y1="285.5" x2="610.2" y2="285.5" stroke="#444" stroke-width="0.8"/>
<circle cx="605.7" cy="283.1" r="1.45" fill="#0000ff"/>
<circle cx="605.7" cy="287.8" r="1.45" fill="#0000ff"/>
<line x1="627.6" y1="282.4" x2="627.6" y2="301.5" stroke="#ff8080" stroke-width="0.8"/>
<line x1="625.4" y1="282.4" x2="629.8" y2="282.4" stroke="#ff8080" stroke-width="0.8"/>
<line x1="625.4" y1="301.5" x2="629.8" y2="301.5" stroke="#ff8080" stroke-width="0.8"/>
<line x1="623.3" y1="292.3" x2="631.9" y2="292.3" stroke="#888" stroke-width="0.8"/>
<circle cx="627.8" cy="285.1" r="1.45" fill="#ff0000"/>
<circle cx="627.8" cy="299" r="1.45" fill="#ff0000"/>
<line x1="638" y1="277.6" x2="644.2" y2="277.6" stroke="#0000ff" stroke-width="0.8"/>
<circle cx="638" cy="277.9" r="1.45" fill="#0000ff"/>
<circle cx="644.2" cy="277.3" r="1.45" fill="#0000ff"/>
<line x1="662.9" y1="270.7" x2="662.9" y2="296.8" stroke="#ff8080" stroke-width="0.8"/>
<line x1="660.7" y1="270.7" x2="665.1" y2="270.7" stroke="#ff8080" stroke-width="0.8"/>
<line x1="660.7" y1="296.8" x2="665.1" y2="296.8" stroke="#ff8080" stroke-width="0.8"/>
<line x1="658.5" y1="283.7" x2="667.3" y2="283.7" stroke="#888" stroke-width="0.8"/>
<circle cx="662.6" cy="274.8" r="1.45" fill="#ff0000"/>
<circle cx="662.6" cy="292.9" r="1.45" fill="#ff0000"/>
<line x1="675.9" y1="259.9" x2="675.9" y2="266.6" stroke="#7070ff" stroke-width="0.8"/>
<line x1="673.7" y1="259.9" x2="678.1" y2="259.9" stroke="#7070ff" stroke-width="0.8"/>
<line x1="673.7" y1="266.6" x2="678.1" y2="266.6" stroke="#7070ff" stroke-width="0.8"/>
<line x1="671.4" y1="263.4" x2="680.4" y2="263.4" stroke="#444" stroke-width="0.8"/>
<circle cx="675.9" cy="260.5" r="1.45" fill="#0000ff"/>
<circle cx="675.9" cy="266.6" r="1.45" fill="#0000ff"/>
<text font-size="5.2" fill="#111" stroke="#111" stroke-width="0.1" dominant-baseline="central" transform="translate(414.89 172.4) rotate(0.1) scale(1 1.12)">%</text>
</svg></body></html>
